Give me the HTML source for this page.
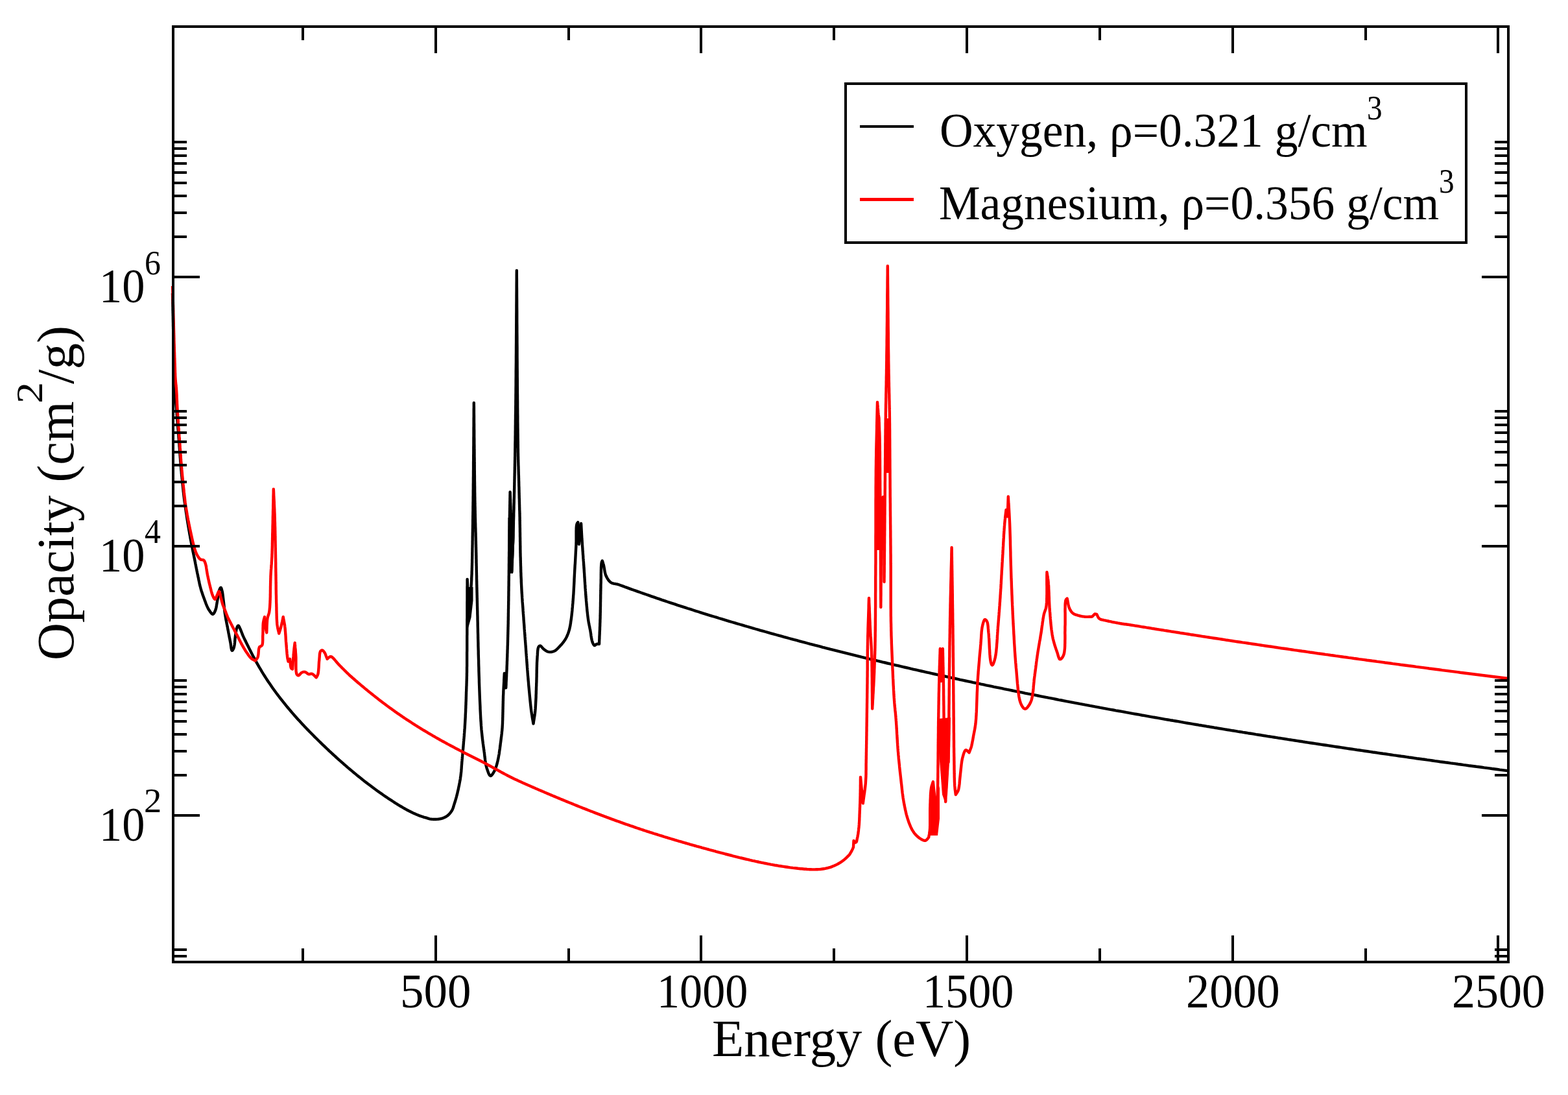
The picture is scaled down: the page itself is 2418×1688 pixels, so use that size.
<!DOCTYPE html>
<html><head><meta charset="utf-8"><title>Opacity</title><style>html,body{margin:0;padding:0;background:#fff;}svg{display:block;}text{font-family:"Liberation Serif","Times New Roman",serif;fill:#000;}</style></head><body><svg width="2418" height="1688" viewBox="0 0 2418 1688"><rect width="2418" height="1688" fill="#fff"/><polyline fill="none" stroke="#000" stroke-width="4.4" stroke-linejoin="round" points="266.0,452.0 266.0,454.0 266.1,456.0 266.1,458.0 266.2,460.0 266.2,462.0 266.3,464.0 266.3,466.0 266.3,468.0 266.4,470.0 266.4,472.0 266.5,473.9 266.5,475.9 266.5,477.9 266.6,479.9 266.6,481.9 266.7,483.9 266.7,485.9 266.8,487.9 266.8,489.9 266.8,491.9 266.9,494.0 266.9,496.0 267.0,498.0 267.0,500.0 267.0,502.1 267.1,504.1 267.1,506.2 267.2,508.3 267.2,510.4 267.2,512.6 267.3,514.7 267.3,516.8 267.4,518.9 267.4,521.0 267.5,523.2 267.5,525.3 267.5,527.4 267.6,529.5 267.6,531.6 267.7,533.7 267.7,535.8 267.7,537.9 267.8,539.9 267.8,542.0 267.9,544.0 267.9,546.0 268.0,548.0 268.0,550.0 268.0,551.9 268.1,553.9 268.1,555.8 268.2,557.7 268.2,559.7 268.2,561.6 268.3,563.5 268.3,565.5 268.4,567.4 268.4,569.3 268.4,571.1 268.5,573.0 268.5,574.8 268.6,576.7 268.6,578.4 268.7,580.2 268.7,581.9 268.8,583.6 268.8,585.3 268.9,586.9 268.9,588.5 269.0,590.0 269.1,591.9 269.2,593.7 269.3,595.5 269.4,597.2 269.5,598.8 269.6,600.4 269.7,602.0 269.8,603.6 269.9,605.2 270.1,606.7 270.2,608.4 270.3,610.0 270.4,611.7 270.6,613.3 270.7,614.9 270.8,616.6 271.0,618.2 271.1,619.9 271.3,621.5 271.4,623.2 271.6,624.8 271.7,626.5 271.9,628.3 272.0,630.0 272.1,631.7 272.3,633.4 272.4,635.2 272.6,636.9 272.7,638.7 272.8,640.5 273.0,642.3 273.1,644.1 273.3,646.0 273.4,647.8 273.6,649.6 273.7,651.4 273.9,653.2 274.0,655.0 274.1,656.8 274.3,658.5 274.4,660.3 274.6,662.0 274.7,663.7 274.8,665.4 275.0,667.1 275.1,668.9 275.3,670.6 275.4,672.4 275.5,674.3 275.7,676.1 275.8,678.0 276.0,680.0 276.1,681.6 276.2,683.3 276.4,685.0 276.5,686.7 276.6,688.5 276.8,690.2 276.9,692.0 277.0,693.9 277.1,695.7 277.3,697.6 277.4,699.4 277.5,701.3 277.7,703.2 277.8,705.1 278.0,707.0 278.1,708.8 278.2,710.7 278.4,712.6 278.5,714.5 278.7,716.3 278.8,718.2 279.0,720.0 279.2,721.8 279.3,723.7 279.5,725.6 279.7,727.5 279.8,729.4 280.0,731.3 280.2,733.2 280.4,735.1 280.6,737.0 280.8,738.9 281.0,740.8 281.2,742.7 281.3,744.6 281.5,746.4 281.7,748.3 281.9,750.1 282.1,751.8 282.3,753.5 282.5,755.2 282.6,756.9 282.8,758.5 283.0,760.0 283.2,761.9 283.4,763.7 283.6,765.5 283.8,767.1 284.0,768.7 284.2,770.3 284.4,771.9 284.6,773.4 284.9,775.1 285.1,776.8 285.3,778.5 285.6,780.4 285.8,782.0 286.1,783.6 286.3,785.3 286.6,787.0 286.8,788.7 287.1,790.5 287.4,792.3 287.7,794.2 287.9,796.0 288.2,797.9 288.5,799.8 288.8,801.6 289.1,803.5 289.4,805.4 289.7,807.2 290.0,809.0 290.3,810.8 290.6,812.6 290.9,814.3 291.2,816.0 291.5,817.9 291.9,819.9 292.2,821.8 292.5,823.7 292.9,825.6 293.2,827.5 293.5,829.3 293.9,831.2 294.2,833.0 294.6,834.8 294.9,836.6 295.2,838.3 295.6,840.0 295.9,841.7 296.2,843.4 296.6,845.3 296.9,847.0 297.3,848.8 297.6,850.5 298.0,852.2 298.3,853.9 298.7,855.5 299.0,857.2 299.4,858.9 299.7,860.6 300.1,862.4 300.4,864.1 300.8,865.8 301.1,867.5 301.4,869.2 301.8,870.9 302.1,872.7 302.5,874.4 302.8,876.2 303.2,877.9 303.5,879.7 303.9,881.4 304.2,883.2 304.6,884.9 305.0,886.6 305.3,888.4 305.7,890.1 306.1,891.9 306.4,893.7 306.8,895.4 307.2,897.2 307.5,898.9 307.9,900.7 308.3,902.4 308.7,904.0 309.2,905.7 309.6,907.3 310.1,909.1 310.6,910.9 311.2,912.6 311.8,914.3 312.3,916.0 312.9,917.7 313.5,919.3 314.1,921.0 314.7,922.6 315.3,924.2 315.9,925.9 316.6,927.6 317.2,929.4 317.8,931.1 318.5,932.7 319.2,934.4 319.9,935.9 320.6,937.4 321.4,938.8 322.3,940.3 323.3,941.8 324.3,943.3 325.4,944.7 326.4,945.8 327.3,946.6 328.2,946.8 329.1,946.4 329.9,945.4 330.7,944.1 331.4,942.5 332.1,941.0 332.6,939.6 333.0,938.1 333.4,936.5 333.7,934.8 334.0,933.0 334.3,931.2 334.6,929.3 334.9,927.5 335.2,925.9 335.5,924.2 335.8,922.4 336.1,920.6 336.4,918.8 336.6,917.0 336.9,915.2 337.3,913.6 337.6,912.1 337.9,910.7 338.3,909.6 338.8,908.2 339.4,907.0 340.0,906.1 340.5,905.8 341.0,906.2 341.5,907.3 341.9,908.7 342.3,910.3 342.7,911.8 343.0,913.1 343.2,914.5 343.4,915.9 343.6,917.5 343.8,919.1 344.0,920.7 344.2,922.4 344.4,924.2 344.6,925.8 344.8,927.4 345.0,929.1 345.2,930.9 345.4,932.7 345.6,934.6 345.8,936.5 346.0,938.4 346.2,940.3 346.4,942.2 346.7,944.1 346.9,945.9 347.2,947.7 347.5,949.5 347.8,951.3 348.1,953.1 348.4,954.9 348.8,956.7 349.1,958.5 349.5,960.3 349.8,962.1 350.2,963.8 350.5,965.6 350.9,967.3 351.2,969.1 351.5,970.8 351.9,972.5 352.2,974.3 352.5,976.0 352.9,977.8 353.2,979.5 353.5,981.2 353.8,982.9 354.2,984.5 354.5,986.2 354.8,987.8 355.1,989.3 355.5,991.3 355.8,993.5 356.1,995.7 356.4,997.9 356.7,999.8 357.1,1001.4 357.5,1002.5 357.9,1002.9 358.6,1002.5 359.3,1001.4 360.1,999.9 360.7,998.2 361.0,997.0 361.3,995.6 361.6,994.1 361.8,992.4 362.0,990.7 362.1,988.9 362.3,987.1 362.4,985.3 362.6,983.5 362.8,981.8 363.0,980.3 363.2,978.6 363.5,976.9 363.7,975.2 364.0,973.5 364.2,971.9 364.5,970.5 364.8,969.2 365.2,968.0 365.7,966.7 366.2,965.6 366.8,964.7 367.4,964.4 368.1,964.9 368.8,966.0 369.5,967.5 370.2,969.1 370.8,970.3 371.4,971.7 372.0,973.3 372.6,974.8 373.3,976.5 373.9,978.2 374.6,979.8 375.3,981.4 376.0,982.9 376.7,984.4 377.4,985.9 378.2,987.4 379.0,988.9 379.7,990.5 380.5,992.0 381.2,993.5 382.0,995.0 384.0,999.1 386.0,1003.1 388.0,1007.0 390.0,1010.9 392.0,1014.6 394.0,1018.3 396.0,1021.9 398.0,1025.4 400.0,1028.9 402.0,1032.2 404.0,1035.6 406.0,1038.8 408.0,1042.0 410.0,1045.1 412.0,1048.2 414.0,1051.2 416.0,1054.1 418.0,1057.0 420.0,1059.9 422.0,1062.7 424.0,1065.5 426.0,1068.2 428.0,1070.8 430.0,1073.5 432.0,1076.1 434.0,1078.6 436.0,1081.1 438.0,1083.6 440.0,1086.1 442.0,1088.6 444.0,1091.0 446.0,1093.4 448.0,1095.7 450.0,1098.1 452.0,1100.4 454.0,1102.7 456.0,1104.9 458.0,1107.2 460.0,1109.4 462.0,1111.6 464.0,1113.8 466.0,1115.9 468.0,1118.1 470.0,1120.2 472.0,1122.3 474.0,1124.4 476.0,1126.4 478.0,1128.5 480.0,1130.5 482.0,1132.5 484.0,1134.6 486.0,1136.6 488.0,1138.5 490.0,1140.5 492.0,1142.5 494.0,1144.4 496.0,1146.4 498.0,1148.3 500.0,1150.2 502.0,1152.1 504.0,1154.0 506.0,1155.9 508.0,1157.8 510.0,1159.6 512.0,1161.5 514.0,1163.3 516.0,1165.2 518.0,1167.0 520.0,1168.8 522.0,1170.6 524.0,1172.4 526.0,1174.1 528.0,1175.9 530.0,1177.7 532.0,1179.4 534.0,1181.1 536.0,1182.9 538.0,1184.6 540.0,1186.3 542.0,1187.9 544.0,1189.6 546.0,1191.3 548.0,1192.9 550.0,1194.6 552.0,1196.2 554.0,1197.8 556.0,1199.4 558.0,1201.0 560.0,1202.6 562.0,1204.2 564.0,1205.7 566.0,1207.3 568.0,1208.8 570.0,1210.3 572.0,1211.8 574.0,1213.3 576.0,1214.8 578.0,1216.3 580.0,1217.7 582.0,1219.2 584.0,1220.6 586.0,1222.0 588.0,1223.4 590.0,1224.8 592.0,1226.2 594.0,1227.6 596.0,1228.9 598.0,1230.3 600.0,1231.6 602.0,1232.9 604.0,1234.2 606.0,1235.5 608.0,1236.8 610.0,1238.1 612.0,1239.3 614.0,1240.6 616.0,1241.8 618.0,1243.0 620.0,1244.2 622.0,1245.4 624.0,1246.5 626.0,1247.6 628.0,1248.7 630.0,1249.8 632.0,1250.8 634.0,1251.8 636.0,1252.8 638.0,1253.7 640.0,1254.6 642.0,1255.5 644.0,1256.3 646.0,1257.1 648.0,1257.8 650.0,1258.5 652.0,1259.2 654.0,1259.8 656.0,1260.3 656.4,1260.4 657.9,1260.9 659.4,1261.4 661.0,1261.9 662.5,1262.3 664.0,1262.6 665.4,1262.8 666.8,1262.9 668.1,1263.0 669.5,1263.0 671.0,1263.0 672.4,1263.0 673.9,1262.9 675.4,1262.8 676.9,1262.6 678.4,1262.3 679.9,1262.0 681.5,1261.6 683.1,1261.1 684.6,1260.5 686.2,1259.8 687.7,1259.0 689.1,1258.1 690.3,1257.2 691.5,1256.2 692.6,1255.1 693.7,1253.9 694.8,1252.6 695.7,1251.3 696.6,1250.0 697.3,1248.7 698.0,1247.3 698.6,1245.8 699.1,1244.3 699.6,1242.7 700.0,1241.2 700.5,1239.6 701.0,1238.0 701.5,1236.5 702.0,1235.0 702.4,1233.5 702.9,1231.9 703.3,1230.4 703.8,1228.8 704.2,1227.1 704.7,1225.4 705.1,1223.6 705.5,1222.1 705.8,1220.5 706.2,1218.9 706.6,1217.2 707.0,1215.5 707.3,1213.7 707.7,1211.9 708.1,1210.1 708.4,1208.3 708.8,1206.4 709.1,1204.6 709.5,1202.8 709.8,1201.0 710.0,1199.2 710.3,1197.4 710.5,1195.7 710.7,1193.9 710.9,1192.2 711.1,1190.4 711.3,1188.7 711.4,1186.9 711.6,1185.1 711.7,1183.4 711.8,1181.6 711.9,1179.9 712.1,1178.1 712.2,1176.4 712.3,1174.6 712.5,1172.9 712.6,1171.1 712.8,1169.4 712.9,1167.6 713.1,1165.9 713.2,1164.1 713.4,1162.4 713.5,1160.6 713.7,1158.9 713.8,1157.1 714.0,1155.4 714.2,1153.6 714.3,1151.9 714.5,1150.1 714.6,1148.4 714.8,1146.6 714.9,1144.9 715.0,1143.2 715.2,1141.4 715.3,1139.7 715.5,1137.9 715.6,1136.2 715.8,1134.4 715.9,1132.7 716.0,1130.9 716.2,1129.2 716.3,1127.4 716.4,1125.7 716.5,1123.9 716.7,1122.2 716.8,1120.4 716.9,1118.7 717.0,1117.0 717.1,1115.2 717.2,1113.5 717.3,1111.7 717.4,1110.0 717.5,1108.2 717.6,1106.5 717.7,1104.7 717.7,1103.0 717.8,1101.2 717.9,1099.5 718.0,1097.7 718.1,1096.0 718.1,1094.2 718.2,1092.5 718.3,1090.7 718.3,1089.0 718.4,1087.2 718.5,1085.5 718.5,1083.7 718.6,1082.0 718.7,1080.2 718.7,1078.5 718.8,1076.7 718.8,1075.0 718.9,1073.2 718.9,1071.5 719.0,1069.7 719.0,1068.0 719.1,1066.2 719.2,1064.5 719.2,1062.8 719.3,1061.1 719.3,1059.4 719.4,1057.8 719.5,1056.1 719.5,1054.4 719.6,1052.8 719.6,1051.1 719.7,1049.3 719.7,1047.6 719.8,1045.8 719.8,1043.9 719.9,1042.0 719.9,1040.0 719.9,1038.3 720.0,1036.5 720.0,1034.6 720.0,1032.7 720.0,1030.8 720.0,1028.8 720.1,1026.9 720.1,1024.8 720.1,1022.8 720.1,1020.7 720.1,1018.6 720.1,1016.5 720.1,1014.4 720.1,1012.3 720.1,1010.1 720.1,1008.0 720.1,1005.8 720.2,1003.7 720.2,1001.5 720.2,999.4 720.2,997.3 720.2,995.2 720.2,993.1 720.2,991.0 720.2,988.9 720.2,986.8 720.2,984.7 720.2,982.5 720.2,980.4 720.3,978.3 720.3,976.1 720.3,974.0 720.3,971.9 720.3,969.7 720.3,967.6 720.3,965.4 720.3,963.3 720.3,961.2 720.3,959.0 720.3,956.9 720.3,954.8 720.4,952.6 720.4,950.5 720.4,948.4 720.4,946.3 720.4,944.2 720.4,942.1 720.4,940.0 720.4,938.0 720.4,936.0 720.4,934.0 720.4,932.1 720.4,930.1 720.4,928.1 720.5,926.2 720.5,924.2 720.5,922.2 720.5,920.3 720.5,918.3 720.5,916.4 720.5,914.4 720.5,912.5 720.5,910.5 720.5,908.6 720.5,906.7 720.5,904.7 720.6,902.8 720.6,900.8 720.6,898.9 720.6,896.9 720.6,895.0 720.6,893.0 722.0,925.0 722.8,924.3 723.6,923.7 724.4,923.0 725.0,922.0 725.4,920.9 725.7,919.6 725.9,918.1 726.1,916.4 726.2,914.6 726.2,912.7 726.3,910.8 726.3,908.8 726.4,906.9 726.5,905.0 726.6,903.4 726.7,901.8 726.8,900.1 726.9,898.5 727.0,896.8 727.1,895.1 727.2,893.3 727.2,891.6 727.3,889.8 727.4,887.9 727.5,886.0 727.6,884.1 727.6,882.1 727.7,880.0 727.8,878.3 727.8,876.5 727.9,874.6 727.9,872.8 728.0,870.8 728.0,868.9 728.1,866.9 728.1,864.9 728.1,862.9 728.2,860.8 728.2,858.7 728.3,856.6 728.3,854.5 728.3,852.3 728.4,850.1 728.4,847.9 728.4,845.7 728.5,843.5 728.5,841.3 728.6,839.0 728.6,836.8 728.6,834.5 728.7,832.3 728.7,830.0 728.7,827.3 728.8,824.6 728.8,821.8 728.9,819.1 728.9,816.3 729.0,813.4 729.0,810.6 729.1,807.7 729.1,804.8 729.1,801.9 729.2,799.0 729.2,796.0 729.3,793.1 729.3,790.1 729.4,787.1 729.4,784.1 729.4,781.1 729.5,778.1 729.5,775.1 729.6,772.1 729.6,769.1 729.6,766.0 729.7,763.0 729.7,760.0 729.7,756.8 729.8,753.5 729.8,750.2 729.8,746.8 729.9,743.5 729.9,740.1 729.9,736.7 730.0,733.3 730.0,729.9 730.0,726.4 730.1,723.0 730.1,719.6 730.1,716.2 730.1,712.7 730.2,709.3 730.2,706.0 730.2,702.6 730.3,699.3 730.3,696.0 730.3,692.7 730.3,689.5 730.4,686.3 730.4,683.1 730.4,680.0 730.4,677.4 730.4,674.8 730.5,672.2 730.5,669.6 730.5,667.1 730.5,664.6 730.5,662.1 730.5,659.7 730.6,657.2 730.6,654.8 730.6,652.4 730.6,649.9 730.6,647.5 730.6,645.1 730.7,642.7 730.7,640.3 730.7,637.9 730.7,635.5 730.7,633.1 730.7,630.7 730.8,628.3 730.8,625.9 730.8,623.5 730.8,621.0 730.8,624.3 730.9,627.6 730.9,630.9 730.9,634.2 730.9,637.4 731.0,640.7 731.0,644.0 731.0,647.3 731.0,650.6 731.1,653.9 731.1,657.2 731.1,660.5 731.2,663.8 731.2,667.0 731.2,670.3 731.2,673.6 731.3,676.9 731.3,680.2 731.3,683.5 731.4,686.8 731.4,690.1 731.4,693.4 731.5,696.7 731.5,700.0 731.5,703.3 731.6,706.7 731.6,710.1 731.6,713.4 731.7,716.8 731.7,720.2 731.7,723.6 731.8,727.1 731.8,730.5 731.9,733.9 731.9,737.3 731.9,740.7 732.0,744.1 732.0,747.5 732.1,750.8 732.1,754.2 732.1,757.5 732.2,760.8 732.2,764.1 732.3,767.3 732.3,770.5 732.4,773.7 732.4,776.9 732.5,780.0 732.6,782.7 732.6,785.3 732.7,788.0 732.7,790.6 732.8,793.2 732.8,795.7 732.9,798.3 733.0,800.8 733.0,803.4 733.1,805.9 733.2,808.4 733.2,810.9 733.3,813.4 733.4,815.8 733.4,818.3 733.5,820.7 733.6,823.2 733.6,825.6 733.7,828.0 733.8,830.4 733.8,832.8 733.9,835.2 733.9,837.6 734.0,840.0 734.0,842.2 734.1,844.3 734.1,846.5 734.2,848.6 734.2,850.7 734.3,852.8 734.3,854.9 734.4,857.0 734.4,859.1 734.4,861.2 734.5,863.2 734.5,865.3 734.5,867.3 734.6,869.4 734.6,871.5 734.7,873.5 734.7,875.6 734.7,877.6 734.8,879.7 734.8,881.7 734.9,883.8 734.9,885.8 735.0,887.9 735.0,890.0 735.0,892.1 735.1,894.1 735.1,896.2 735.2,898.2 735.2,900.3 735.3,902.3 735.3,904.3 735.4,906.3 735.4,908.3 735.5,910.3 735.5,912.4 735.6,914.4 735.6,916.4 735.7,918.5 735.7,920.5 735.8,922.6 735.8,924.7 735.9,926.8 735.9,929.0 736.0,931.1 736.0,933.3 736.1,935.5 736.1,937.7 736.2,940.0 736.3,942.8 736.3,945.6 736.4,948.5 736.5,951.5 736.5,954.5 736.6,957.5 736.7,960.5 736.7,963.6 736.8,966.7 736.9,969.8 736.9,972.9 737.0,976.1 737.1,979.3 737.1,982.4 737.2,985.6 737.3,988.8 737.4,991.9 737.4,995.1 737.5,998.2 737.6,1001.3 737.7,1004.4 737.7,1007.5 737.8,1010.5 737.9,1013.5 738.0,1016.3 738.1,1019.2 738.1,1022.1 738.2,1024.9 738.3,1027.8 738.4,1030.6 738.4,1033.5 738.5,1036.4 738.6,1039.2 738.7,1042.1 738.8,1044.9 738.9,1047.7 738.9,1050.5 739.0,1053.3 739.1,1056.1 739.2,1058.9 739.3,1061.6 739.4,1064.3 739.5,1067.0 739.6,1069.7 739.7,1072.3 739.8,1074.9 739.9,1077.5 740.0,1080.0 740.1,1082.1 740.2,1084.2 740.3,1086.2 740.4,1088.2 740.5,1090.3 740.5,1092.3 740.6,1094.3 740.7,1096.3 740.8,1098.2 740.9,1100.2 741.0,1102.1 741.1,1104.0 741.2,1105.9 741.3,1107.8 741.4,1109.7 741.5,1111.6 741.7,1113.4 741.8,1115.3 741.9,1117.1 742.0,1118.9 742.2,1120.7 742.3,1122.5 742.4,1124.2 742.6,1126.0 742.8,1128.0 743.0,1129.9 743.2,1131.8 743.4,1133.8 743.6,1135.6 743.8,1137.5 744.0,1139.4 744.2,1141.2 744.5,1143.0 744.7,1144.9 744.9,1146.6 745.2,1148.4 745.4,1150.2 745.6,1151.9 745.9,1153.7 746.1,1155.4 746.4,1157.1 746.6,1158.8 746.9,1160.7 747.1,1162.6 747.3,1164.5 747.5,1166.4 747.8,1168.3 748.0,1170.2 748.2,1172.0 748.5,1173.8 748.7,1175.6 749.0,1177.3 749.3,1179.0 749.7,1180.6 750.1,1182.1 750.5,1183.6 751.1,1185.6 751.8,1187.6 752.5,1189.6 753.2,1191.6 754.0,1193.3 754.8,1194.7 755.6,1195.6 756.4,1196.0 757.3,1195.8 758.3,1194.9 759.3,1193.7 760.4,1192.1 761.3,1190.5 762.2,1188.9 762.9,1187.6 763.5,1186.3 764.0,1184.9 764.6,1183.4 765.1,1181.9 765.6,1180.3 766.1,1178.6 766.6,1176.9 767.0,1175.1 767.5,1173.2 767.8,1171.7 768.2,1170.1 768.5,1168.5 768.8,1166.8 769.1,1165.0 769.5,1163.1 769.8,1161.3 770.0,1159.4 770.3,1157.4 770.6,1155.5 770.9,1153.5 771.1,1151.6 771.4,1149.7 771.6,1147.8 771.8,1146.0 772.1,1144.2 772.3,1142.5 772.5,1140.8 772.7,1139.2 772.9,1137.3 773.2,1135.4 773.4,1133.7 773.6,1132.1 773.8,1130.5 773.9,1128.8 774.1,1127.2 774.3,1125.5 774.4,1123.7 774.6,1121.8 774.7,1119.7 774.8,1118.1 774.9,1116.4 775.0,1114.7 775.0,1112.9 775.1,1111.0 775.2,1109.1 775.2,1107.1 775.3,1105.1 775.3,1103.1 775.4,1101.0 775.4,1098.9 775.5,1096.8 775.5,1094.6 775.6,1092.5 775.6,1090.4 775.7,1088.2 775.7,1086.1 775.8,1084.0 775.8,1081.9 775.9,1079.9 775.9,1077.9 776.0,1076.0 776.0,1074.0 776.1,1072.2 776.2,1070.3 776.3,1068.4 776.3,1066.5 776.4,1064.6 776.5,1062.8 776.6,1061.0 776.7,1059.2 776.8,1057.4 776.9,1055.6 777.0,1053.9 777.1,1052.1 777.2,1050.4 777.2,1048.6 777.3,1046.9 777.4,1045.1 777.5,1043.3 777.6,1041.6 777.7,1039.8 777.8,1038.0 780.2,1060.4 780.3,1058.5 780.4,1056.7 780.5,1054.8 780.5,1053.0 780.6,1051.2 780.7,1049.3 780.8,1047.5 780.9,1045.7 781.0,1043.8 781.1,1042.0 781.1,1040.2 781.2,1038.3 781.3,1036.4 781.4,1034.5 781.5,1032.6 781.6,1030.7 781.6,1028.8 781.7,1026.8 781.8,1024.8 781.9,1023.0 781.9,1021.1 782.0,1019.2 782.1,1017.3 782.1,1015.4 782.2,1013.4 782.3,1011.4 782.3,1009.5 782.4,1007.5 782.5,1005.5 782.5,1003.5 782.6,1001.5 782.7,999.5 782.7,997.4 782.8,995.4 782.9,993.4 782.9,991.4 783.0,989.3 783.0,987.3 783.1,985.3 783.1,983.3 783.2,981.3 783.2,979.3 783.3,977.3 783.3,975.3 783.4,973.3 783.4,971.4 783.5,969.4 783.5,967.4 783.6,965.4 783.6,963.4 783.7,961.5 783.7,959.5 783.7,957.5 783.8,955.5 783.8,953.5 783.8,951.6 783.9,949.6 783.9,947.6 783.9,945.6 784.0,943.7 784.0,941.7 784.0,939.7 784.1,937.7 784.1,935.7 784.1,933.8 784.2,931.8 784.2,929.8 784.2,927.8 784.3,925.9 784.3,923.9 784.3,922.0 784.3,920.0 784.4,918.1 784.4,916.2 784.4,914.2 784.4,912.3 784.5,910.4 784.5,908.4 784.5,906.5 784.5,904.6 784.6,902.6 784.6,900.6 784.6,898.7 784.6,896.7 784.7,894.7 784.7,892.7 784.7,890.7 784.7,888.6 784.8,886.6 784.8,884.5 784.8,882.4 784.8,880.0 784.9,877.5 784.9,875.0 784.9,872.5 784.9,870.0 785.0,867.4 785.0,864.8 785.0,862.2 785.0,859.6 785.1,857.0 785.1,854.3 785.1,851.7 785.2,849.1 785.2,846.4 785.2,843.7 785.2,841.1 785.3,838.4 785.3,835.8 785.3,833.1 785.4,830.5 785.4,827.8 785.4,825.2 785.5,822.6 785.5,820.0 785.5,817.4 785.6,814.9 785.6,812.3 785.7,809.7 785.7,807.2 785.7,804.6 785.8,802.0 785.8,799.5 785.9,796.9 785.9,794.3 786.0,791.8 786.0,789.2 786.1,786.7 786.1,784.1 786.2,781.5 786.2,779.0 786.3,776.4 786.3,773.9 786.4,771.3 786.4,768.7 786.5,766.2 786.5,763.6 786.6,761.1 786.6,758.5 786.7,760.4 786.7,762.2 786.8,764.0 786.9,765.9 786.9,767.7 787.0,769.4 787.1,771.2 787.1,773.0 787.2,774.8 787.3,776.6 787.3,778.4 787.4,780.2 787.5,782.0 787.5,783.9 787.6,785.8 787.6,787.7 787.7,789.6 787.8,791.6 787.8,793.6 787.9,795.7 787.9,797.8 788.0,800.0 788.1,802.9 788.1,805.9 788.2,808.9 788.3,812.1 788.3,815.3 788.4,818.6 788.4,821.9 788.5,825.3 788.5,828.7 788.6,832.2 788.6,835.7 788.7,839.3 788.7,842.8 788.8,846.4 788.8,850.0 788.9,853.6 788.9,857.2 789.0,860.9 789.0,864.4 789.1,868.0 789.1,871.6 789.2,875.1 789.2,878.6 789.3,882.0 789.4,879.8 789.5,877.7 789.5,875.6 789.6,873.4 789.7,871.3 789.8,869.2 789.9,867.1 789.9,865.0 790.0,862.8 790.1,860.7 790.2,858.6 790.3,856.5 790.4,854.4 790.4,852.2 790.5,850.1 790.6,847.9 790.7,845.7 790.7,843.5 790.8,841.3 790.9,839.1 791.0,836.9 791.1,834.6 791.1,832.3 791.2,830.0 791.3,827.3 791.4,824.5 791.4,821.7 791.5,818.9 791.6,816.0 791.7,813.1 791.8,810.2 791.9,807.2 791.9,804.3 792.0,801.3 792.1,798.3 792.2,795.3 792.2,792.3 792.3,789.3 792.4,786.3 792.5,783.3 792.5,780.3 792.6,777.4 792.7,774.4 792.7,771.5 792.8,768.6 792.9,765.7 792.9,762.8 793.0,760.0 793.1,757.4 793.1,754.9 793.2,752.4 793.2,749.9 793.3,747.5 793.3,745.0 793.4,742.6 793.4,740.2 793.5,737.8 793.5,735.4 793.6,733.1 793.6,730.7 793.7,728.3 793.7,725.8 793.8,723.4 793.8,721.0 793.9,718.5 793.9,716.0 794.0,713.4 794.0,710.8 794.1,708.2 794.1,705.5 794.2,702.8 794.2,700.0 794.3,696.3 794.3,692.7 794.4,688.9 794.4,685.2 794.5,681.3 794.6,677.5 794.6,673.6 794.7,669.7 794.7,665.7 794.8,661.7 794.8,657.6 794.9,653.5 794.9,649.3 795.0,645.1 795.0,640.8 795.1,636.5 795.2,632.1 795.2,627.7 795.3,623.2 795.3,618.7 795.4,614.1 795.4,609.5 795.5,604.8 795.5,600.0 795.6,593.4 795.6,586.7 795.7,579.8 795.7,572.7 795.8,565.5 795.9,558.1 795.9,550.6 796.0,543.1 796.0,535.4 796.1,527.6 796.1,519.8 796.2,511.9 796.2,504.0 796.3,496.0 796.3,488.0 796.4,480.0 796.4,472.0 796.5,464.0 796.5,456.1 796.6,448.1 796.6,440.3 796.7,432.4 796.7,424.7 796.8,417.0 796.8,424.7 796.9,432.4 796.9,440.3 797.0,448.1 797.0,456.1 797.1,464.0 797.1,472.0 797.2,480.0 797.2,488.0 797.2,496.0 797.3,504.0 797.3,511.9 797.4,519.8 797.4,527.6 797.5,535.4 797.5,543.1 797.5,550.6 797.6,558.1 797.6,565.5 797.7,572.7 797.7,579.8 797.8,586.7 797.8,593.4 797.9,600.0 797.9,604.8 798.0,609.5 798.0,614.2 798.1,618.8 798.1,623.4 798.1,627.9 798.2,632.4 798.2,636.8 798.3,641.2 798.3,645.5 798.3,649.8 798.4,654.0 798.4,658.2 798.5,662.3 798.5,666.3 798.6,670.3 798.6,674.2 798.7,678.1 798.7,681.9 798.8,685.7 798.8,689.3 798.9,693.0 798.9,696.5 799.0,700.0 799.0,702.4 799.1,704.8 799.1,707.1 799.2,709.3 799.2,711.5 799.3,713.7 799.3,715.8 799.4,717.9 799.5,720.0 799.5,722.1 799.6,724.1 799.6,726.1 799.7,728.1 799.7,730.0 799.8,732.0 799.9,734.0 799.9,735.9 800.0,737.9 800.0,739.9 800.1,741.9 800.1,743.9 800.2,745.9 800.2,747.9 800.3,750.0 800.4,752.1 800.4,754.2 800.5,756.2 800.5,758.3 800.6,760.3 800.6,762.4 800.7,764.5 800.7,766.5 800.8,768.6 800.9,770.6 800.9,772.7 801.0,774.7 801.0,776.8 801.1,778.9 801.1,781.0 801.2,783.0 801.2,785.1 801.3,787.2 801.4,789.3 801.4,791.4 801.5,793.6 801.5,795.7 801.6,797.8 801.6,800.0 801.6,802.4 801.7,804.7 801.7,807.2 801.8,809.6 801.8,812.0 801.9,814.5 801.9,817.0 801.9,819.5 802.0,821.9 802.0,824.4 802.0,826.9 802.1,829.4 802.1,832.0 802.1,834.4 802.2,836.9 802.2,839.4 802.3,841.9 802.3,844.4 802.3,846.8 802.4,849.2 802.4,851.6 802.5,854.0 802.5,856.4 802.6,858.7 802.7,860.8 802.7,862.8 802.8,864.9 802.8,866.9 802.9,868.9 802.9,870.9 803.0,872.9 803.1,874.9 803.1,876.8 803.2,878.8 803.2,880.8 803.3,882.7 803.4,884.7 803.4,886.6 803.5,888.5 803.6,890.5 803.7,892.4 803.8,894.4 803.8,896.3 803.9,898.3 804.0,900.2 804.1,902.2 804.2,904.1 804.3,906.1 804.4,908.1 804.5,910.1 804.6,912.0 804.7,914.0 804.9,916.0 805.0,918.0 805.1,920.0 805.2,921.9 805.4,923.9 805.5,925.9 805.6,927.9 805.8,929.9 805.9,931.8 806.1,933.8 806.2,935.8 806.4,937.8 806.5,939.7 806.6,941.7 806.8,943.7 806.9,945.7 807.1,947.7 807.2,949.6 807.4,951.6 807.5,953.6 807.6,955.6 807.8,957.6 807.9,959.5 808.1,961.5 808.2,963.5 808.4,965.5 808.5,967.4 808.6,969.4 808.8,971.4 808.9,973.4 809.1,975.3 809.2,977.3 809.4,979.3 809.5,981.2 809.7,983.2 809.8,985.2 810.0,987.2 810.1,989.1 810.3,991.1 810.4,993.1 810.6,995.1 810.7,997.0 810.9,999.0 811.0,1001.0 811.1,1003.0 811.3,1005.0 811.4,1006.9 811.6,1008.9 811.7,1010.9 811.9,1012.9 812.0,1014.9 812.2,1016.8 812.3,1018.8 812.4,1020.8 812.6,1022.8 812.7,1024.8 812.9,1026.7 813.0,1028.7 813.2,1030.7 813.3,1032.7 813.5,1034.6 813.6,1036.6 813.8,1038.6 813.9,1040.6 814.1,1042.6 814.3,1044.5 814.4,1046.5 814.6,1048.5 814.8,1050.5 815.0,1052.5 815.1,1054.6 815.3,1056.7 815.5,1058.8 815.7,1060.9 815.9,1063.0 816.1,1065.1 816.3,1067.2 816.5,1069.4 816.7,1071.5 816.9,1073.6 817.1,1075.6 817.3,1077.7 817.5,1079.7 817.7,1081.7 817.9,1083.7 818.1,1085.6 818.3,1087.5 818.5,1089.3 818.7,1091.1 818.9,1092.8 819.1,1094.4 819.3,1096.0 819.6,1098.1 819.9,1100.1 820.2,1101.9 820.5,1103.7 820.7,1105.4 821.0,1107.1 821.3,1108.8 821.6,1110.4 821.9,1112.1 822.2,1113.8 822.5,1115.5 822.8,1113.8 823.0,1112.1 823.3,1110.4 823.6,1108.7 823.8,1107.1 824.1,1105.4 824.4,1103.7 824.6,1101.9 824.9,1100.0 825.1,1098.1 825.3,1096.0 825.4,1094.5 825.6,1092.9 825.7,1091.2 825.8,1089.5 825.9,1087.7 826.0,1085.9 826.1,1084.0 826.2,1082.1 826.3,1080.2 826.4,1078.3 826.5,1076.3 826.6,1074.3 826.6,1072.3 826.7,1070.3 826.8,1068.3 826.8,1066.3 826.9,1064.3 827.0,1062.4 827.0,1060.4 827.1,1058.5 827.2,1056.6 827.2,1054.7 827.3,1052.9 827.4,1051.0 827.4,1049.0 827.5,1047.1 827.5,1045.1 827.6,1043.1 827.6,1041.2 827.6,1039.2 827.7,1037.2 827.7,1035.3 827.7,1033.4 827.8,1031.5 827.8,1029.6 827.9,1027.7 827.9,1025.9 828.0,1024.1 828.0,1022.4 828.1,1020.6 828.2,1019.0 828.3,1017.4 828.4,1015.8 828.5,1013.8 828.6,1011.7 828.8,1009.7 828.9,1007.7 829.0,1005.8 829.1,1003.9 829.3,1002.2 829.5,1000.6 829.8,999.2 830.2,998.1 830.6,997.2 831.4,996.2 832.3,995.6 833.2,995.5 834.1,995.9 835.0,996.9 836.0,998.1 837.1,999.4 838.2,1000.5 839.3,1001.4 840.6,1002.3 841.8,1003.1 843.2,1003.9 844.5,1004.5 845.9,1004.9 847.3,1005.1 848.8,1005.1 850.3,1005.0 851.7,1004.7 853.2,1004.3 854.6,1003.8 855.9,1003.1 857.2,1002.2 858.5,1001.1 859.7,1000.0 860.9,998.7 862.1,997.5 863.3,996.2 864.3,995.1 865.4,994.0 866.4,992.8 867.4,991.6 868.4,990.4 869.4,989.1 870.3,987.8 871.2,986.5 872.0,985.2 872.8,983.8 873.5,982.5 874.2,981.1 874.8,979.6 875.4,978.2 876.0,976.7 876.5,975.2 877.0,973.7 877.5,972.1 878.0,970.5 878.4,968.9 878.7,967.3 879.1,965.6 879.4,964.0 879.7,962.2 880.0,960.5 880.2,958.6 880.5,956.7 880.8,954.7 881.0,953.2 881.2,951.5 881.4,949.9 881.6,948.2 881.8,946.4 882.0,944.6 882.2,942.8 882.4,940.9 882.5,939.0 882.7,937.1 882.9,935.2 883.0,933.3 883.2,931.3 883.4,929.4 883.5,927.4 883.7,925.5 883.8,923.5 884.0,921.6 884.1,919.7 884.2,917.9 884.4,916.0 884.5,914.2 884.6,912.4 884.7,910.5 884.8,908.6 884.9,906.8 885.0,904.9 885.1,903.0 885.2,901.1 885.3,899.3 885.4,897.4 885.5,895.5 885.5,893.6 885.6,891.7 885.7,889.8 885.8,887.9 885.9,886.0 886.0,884.2 886.1,882.3 886.2,880.4 886.3,878.5 886.4,876.6 886.5,874.8 886.6,872.9 886.7,871.0 886.9,869.1 887.0,867.2 887.1,865.3 887.2,863.4 887.3,861.5 887.4,859.6 887.5,857.7 887.6,855.8 887.7,854.0 887.8,852.1 887.9,850.2 888.0,848.4 888.1,846.5 888.2,844.7 888.3,842.9 888.4,841.1 888.5,839.1 888.5,837.1 888.6,835.0 888.6,832.9 888.6,830.7 888.6,828.5 888.6,826.4 888.6,824.2 888.6,822.1 888.6,820.1 888.6,818.1 888.7,816.3 888.7,814.5 888.8,812.9 888.9,811.4 889.1,810.1 889.3,808.9 889.5,808.0 890.0,806.7 890.7,805.9 891.3,805.0 892.8,839.0 893.0,837.3 893.1,835.6 893.3,833.9 893.5,832.2 893.6,830.5 893.8,828.8 894.0,827.1 894.1,825.4 894.3,823.7 894.5,822.1 894.6,820.4 894.8,818.7 895.0,817.1 895.2,815.4 895.4,813.7 895.6,812.0 895.7,810.4 895.9,808.7 896.1,807.0 896.2,808.9 896.3,810.7 896.4,812.5 896.5,814.4 896.6,816.2 896.7,818.0 896.8,819.9 896.9,821.7 897.0,823.5 897.1,825.4 897.2,827.2 897.3,829.1 897.4,831.0 897.6,832.9 897.7,834.8 897.8,836.8 897.9,838.6 898.0,840.3 898.1,842.1 898.3,843.9 898.4,845.7 898.5,847.5 898.6,849.3 898.8,851.1 898.9,853.0 899.0,854.8 899.2,856.7 899.3,858.5 899.4,860.4 899.6,862.3 899.7,864.2 899.9,866.1 900.0,868.0 900.1,870.0 900.3,871.9 900.4,873.9 900.5,875.8 900.7,877.7 900.8,879.7 900.9,881.6 901.1,883.7 901.2,885.7 901.3,887.7 901.4,889.8 901.6,891.9 901.7,893.9 901.8,896.0 902.0,898.1 902.1,900.2 902.3,902.2 902.4,904.3 902.5,906.4 902.7,908.4 902.8,910.4 903.0,912.4 903.1,914.4 903.2,916.3 903.4,918.2 903.5,920.1 903.7,921.9 903.9,923.9 904.0,925.9 904.2,927.9 904.4,929.8 904.5,931.8 904.7,933.7 904.9,935.6 905.1,937.5 905.2,939.3 905.4,941.2 905.6,943.0 905.8,944.8 906.0,946.5 906.2,948.2 906.4,949.9 906.6,951.5 906.8,953.1 907.0,954.7 907.3,956.7 907.6,958.5 907.9,960.3 908.3,962.1 908.6,963.7 909.0,965.4 909.3,967.1 909.6,968.7 910.0,970.4 910.3,972.1 910.6,973.9 910.9,975.8 911.2,977.7 911.4,979.6 911.7,981.5 912.0,983.4 912.3,985.1 912.7,986.8 913.1,988.3 913.5,989.6 914.1,991.1 914.7,992.5 915.4,993.7 916.1,994.6 916.8,995.0 917.8,994.6 918.9,993.7 920.1,992.9 921.4,992.7 922.7,992.8 924.0,992.9 924.1,991.1 924.1,989.3 924.2,987.5 924.3,985.7 924.4,984.0 924.4,982.2 924.5,980.4 924.6,978.7 924.7,976.9 924.7,975.1 924.8,973.3 924.9,971.6 925.0,969.8 925.0,967.9 925.1,966.1 925.2,964.3 925.2,962.4 925.3,960.5 925.4,958.6 925.4,956.7 925.5,954.7 925.6,952.6 925.6,950.4 925.7,948.2 925.7,946.0 925.8,943.7 925.8,941.4 925.9,939.0 925.9,936.7 926.0,934.3 926.0,931.9 926.0,929.5 926.1,927.1 926.1,924.7 926.2,922.3 926.2,919.9 926.2,917.6 926.3,915.2 926.3,912.9 926.4,910.7 926.4,908.4 926.5,906.2 926.5,904.1 926.5,902.0 926.6,900.0 926.7,897.9 926.7,895.8 926.7,893.6 926.8,891.5 926.8,889.3 926.8,887.1 926.8,885.0 926.9,882.9 926.9,880.9 926.9,878.9 927.0,877.0 927.0,875.2 927.1,873.5 927.2,872.0 927.3,870.6 927.4,869.3 927.5,868.2 927.7,867.3 928.0,866.1 928.4,865.3 928.8,864.5 929.2,865.9 929.7,867.2 930.1,868.6 930.6,870.1 931.0,871.7 931.3,873.2 931.6,874.8 931.9,876.5 932.2,878.3 932.5,880.1 932.8,882.0 933.2,883.7 933.7,885.4 934.3,887.0 935.0,888.6 935.8,890.1 936.6,891.7 937.6,893.1 938.5,894.5 939.6,895.8 940.7,896.9 941.9,897.9 943.3,898.7 944.7,899.2 946.3,899.6 947.9,899.9 949.6,900.2 951.2,900.4 952.8,900.8 956.8,902.3 960.8,903.7 964.8,905.2 968.8,906.6 972.8,908.1 976.8,909.5 980.8,910.9 984.8,912.3 988.8,913.8 992.8,915.2 996.8,916.5 1000.8,917.9 1004.8,919.3 1008.8,920.7 1012.8,922.1 1016.8,923.4 1020.8,924.8 1024.8,926.1 1028.8,927.5 1032.8,928.8 1036.8,930.1 1040.8,931.4 1044.8,932.8 1048.8,934.1 1052.8,935.4 1056.8,936.7 1060.8,938.0 1064.8,939.2 1068.8,940.5 1072.8,941.8 1076.8,943.0 1080.8,944.3 1084.8,945.6 1088.8,946.8 1092.8,948.1 1096.8,949.3 1100.8,950.5 1104.8,951.7 1108.8,953.0 1112.8,954.2 1116.8,955.4 1120.8,956.6 1124.8,957.8 1128.8,959.0 1132.8,960.2 1136.8,961.4 1140.8,962.5 1144.8,963.7 1148.8,964.9 1152.8,966.0 1156.8,967.2 1160.8,968.3 1164.8,969.5 1168.8,970.6 1172.8,971.8 1176.8,972.9 1180.8,974.0 1184.8,975.2 1188.8,976.3 1192.8,977.4 1196.8,978.5 1200.8,979.6 1204.8,980.7 1208.8,981.8 1212.8,982.9 1216.8,984.0 1220.8,985.1 1224.8,986.2 1228.8,987.2 1232.8,988.3 1236.8,989.4 1240.8,990.4 1244.8,991.5 1248.8,992.6 1252.8,993.6 1256.8,994.7 1260.8,995.7 1264.8,996.7 1268.8,997.8 1272.8,998.8 1276.8,999.8 1280.8,1000.9 1284.8,1001.9 1288.8,1002.9 1292.8,1003.9 1296.8,1004.9 1300.8,1005.9 1304.8,1006.9 1308.8,1007.9 1312.8,1008.9 1316.8,1009.9 1320.8,1010.9 1324.8,1011.9 1328.8,1012.9 1332.8,1013.8 1336.8,1014.8 1340.8,1015.8 1344.8,1016.8 1348.8,1017.7 1352.8,1018.7 1356.8,1019.6 1360.8,1020.6 1364.8,1021.5 1368.8,1022.5 1372.8,1023.4 1376.8,1024.4 1380.8,1025.3 1384.8,1026.2 1388.8,1027.2 1392.8,1028.1 1396.8,1029.0 1400.8,1029.9 1404.8,1030.9 1408.8,1031.8 1412.8,1032.7 1416.8,1033.6 1420.8,1034.5 1424.8,1035.4 1428.8,1036.3 1432.8,1037.2 1436.8,1038.1 1440.8,1039.0 1444.8,1039.9 1448.8,1040.8 1452.8,1041.7 1456.8,1042.5 1460.8,1043.4 1464.8,1044.3 1468.8,1045.2 1472.8,1046.0 1476.8,1046.9 1480.8,1047.8 1484.8,1048.6 1488.8,1049.5 1492.8,1050.3 1496.8,1051.2 1500.8,1052.1 1504.8,1052.9 1508.8,1053.7 1512.8,1054.6 1516.8,1055.4 1520.8,1056.3 1524.8,1057.1 1528.8,1057.9 1532.8,1058.8 1536.8,1059.6 1540.8,1060.4 1544.8,1061.2 1548.8,1062.1 1552.8,1062.9 1556.8,1063.7 1560.8,1064.5 1564.8,1065.3 1568.8,1066.1 1572.8,1066.9 1576.8,1067.7 1580.8,1068.6 1584.8,1069.4 1588.8,1070.1 1592.8,1070.9 1596.8,1071.7 1600.8,1072.5 1604.8,1073.3 1608.8,1074.1 1612.8,1074.9 1616.8,1075.7 1620.8,1076.4 1624.8,1077.2 1628.8,1078.0 1632.8,1078.8 1636.8,1079.5 1640.8,1080.3 1644.8,1081.1 1648.8,1081.8 1652.8,1082.6 1656.8,1083.4 1660.8,1084.1 1664.8,1084.9 1668.8,1085.6 1672.8,1086.4 1676.8,1087.1 1680.8,1087.9 1684.8,1088.6 1688.8,1089.4 1692.8,1090.1 1696.8,1090.9 1700.8,1091.6 1704.8,1092.3 1708.8,1093.1 1712.8,1093.8 1716.8,1094.5 1720.8,1095.3 1724.8,1096.0 1728.8,1096.7 1732.8,1097.4 1736.8,1098.2 1740.8,1098.9 1744.8,1099.6 1748.8,1100.3 1752.8,1101.0 1756.8,1101.7 1760.8,1102.5 1764.8,1103.2 1768.8,1103.9 1772.8,1104.6 1776.8,1105.3 1780.8,1106.0 1784.8,1106.7 1788.8,1107.4 1792.8,1108.1 1796.8,1108.8 1800.8,1109.5 1804.8,1110.2 1808.8,1110.8 1812.8,1111.5 1816.8,1112.2 1820.8,1112.9 1824.8,1113.6 1828.8,1114.3 1832.8,1115.0 1836.8,1115.6 1840.8,1116.3 1844.8,1117.0 1848.8,1117.7 1852.8,1118.3 1856.8,1119.0 1860.8,1119.7 1864.8,1120.3 1868.8,1121.0 1872.8,1121.7 1876.8,1122.3 1880.8,1123.0 1884.8,1123.6 1888.8,1124.3 1892.8,1125.0 1896.8,1125.6 1900.8,1126.3 1904.8,1126.9 1908.8,1127.6 1912.8,1128.2 1916.8,1128.9 1920.8,1129.5 1924.8,1130.2 1928.8,1130.8 1932.8,1131.4 1936.8,1132.1 1940.8,1132.7 1944.8,1133.3 1948.8,1134.0 1952.8,1134.6 1956.8,1135.3 1960.8,1135.9 1964.8,1136.5 1968.8,1137.1 1972.8,1137.8 1976.8,1138.4 1980.8,1139.0 1984.8,1139.6 1988.8,1140.3 1992.8,1140.9 1996.8,1141.5 2000.8,1142.1 2004.8,1142.7 2008.8,1143.3 2012.8,1144.0 2016.8,1144.6 2020.8,1145.2 2024.8,1145.8 2028.8,1146.4 2032.8,1147.0 2036.8,1147.6 2040.8,1148.2 2044.8,1148.8 2048.8,1149.4 2052.8,1150.0 2056.8,1150.6 2060.8,1151.2 2064.8,1151.8 2068.8,1152.4 2072.8,1153.0 2076.8,1153.6 2080.8,1154.2 2084.8,1154.8 2088.8,1155.4 2092.8,1156.0 2096.8,1156.5 2100.8,1157.1 2104.8,1157.7 2108.8,1158.3 2112.8,1158.9 2116.8,1159.5 2120.8,1160.0 2124.8,1160.6 2128.8,1161.2 2132.8,1161.8 2136.8,1162.3 2140.8,1162.9 2144.8,1163.5 2148.8,1164.1 2152.8,1164.6 2156.8,1165.2 2160.8,1165.8 2164.8,1166.3 2168.8,1166.9 2172.8,1167.5 2176.8,1168.0 2180.8,1168.6 2184.8,1169.2 2188.8,1169.7 2192.8,1170.3 2196.8,1170.8 2200.8,1171.4 2204.8,1171.9 2208.8,1172.5 2212.8,1173.1 2216.8,1173.6 2220.8,1174.2 2224.8,1174.7 2228.8,1175.3 2232.8,1175.8 2236.8,1176.4 2240.8,1176.9 2244.8,1177.4 2248.8,1178.0 2252.8,1178.5 2256.8,1179.1 2260.8,1179.6 2264.8,1180.2 2268.8,1180.7 2272.8,1181.2 2276.8,1181.8 2280.8,1182.3 2284.8,1182.8 2288.8,1183.4 2292.8,1183.9 2296.8,1184.4 2300.8,1185.0 2304.8,1185.5 2308.8,1186.0 2312.8,1186.6 2316.8,1187.1 2320.8,1187.6 2324.8,1188.1 2327.0,1188.4"/><polyline fill="none" stroke="#f00" stroke-width="4.4" stroke-linejoin="round" points="266.0,441.0 266.1,442.8 266.1,444.6 266.2,446.4 266.3,448.2 266.3,450.0 266.4,451.9 266.4,453.7 266.5,455.5 266.6,457.3 266.6,459.1 266.7,460.9 266.8,462.7 266.8,464.5 266.9,466.4 266.9,468.2 267.0,470.0 267.1,471.8 267.1,473.5 267.2,475.3 267.2,477.0 267.3,478.8 267.3,480.6 267.3,482.3 267.4,484.1 267.4,485.9 267.5,487.6 267.5,489.4 267.6,491.2 267.6,492.9 267.7,494.7 267.7,496.5 267.8,498.2 267.8,500.0 267.8,501.8 267.9,503.5 267.9,505.3 268.0,507.1 268.0,508.8 268.1,510.6 268.1,512.4 268.2,514.1 268.2,515.9 268.3,517.6 268.3,519.4 268.4,521.2 268.4,522.9 268.4,524.7 268.5,526.5 268.5,528.2 268.6,530.0 268.7,531.8 268.7,533.5 268.8,535.3 268.8,537.1 268.9,538.9 268.9,540.7 269.0,542.5 269.1,544.3 269.1,546.1 269.2,547.8 269.2,549.6 269.3,551.4 269.4,553.1 269.4,554.9 269.5,556.6 269.5,558.3 269.6,560.0 269.7,561.9 269.7,563.7 269.8,565.6 269.9,567.5 269.9,569.4 270.0,571.2 270.0,573.0 270.1,574.9 270.2,576.6 270.2,578.4 270.3,580.1 270.4,581.8 270.5,583.4 270.6,585.0 270.7,586.8 270.9,588.5 271.0,590.1 271.2,591.6 271.4,593.2 271.5,594.8 271.7,596.4 271.9,598.1 272.0,600.0 272.1,601.5 272.2,603.1 272.3,604.7 272.4,606.4 272.5,608.2 272.6,609.9 272.6,611.8 272.7,613.6 272.8,615.5 272.9,617.3 273.0,619.2 273.0,621.1 273.1,622.9 273.2,624.7 273.3,626.5 273.4,628.3 273.5,630.0 273.6,631.9 273.7,633.7 273.8,635.5 274.0,637.3 274.1,639.1 274.2,640.9 274.3,642.6 274.4,644.4 274.6,646.2 274.7,647.9 274.8,649.7 274.9,651.4 275.1,653.2 275.2,655.0 275.3,656.8 275.4,658.5 275.6,660.3 275.7,662.0 275.8,663.7 275.9,665.4 276.1,667.1 276.2,668.9 276.3,670.6 276.4,672.4 276.6,674.3 276.7,676.1 276.9,678.0 277.0,680.0 277.1,681.6 277.2,683.3 277.4,685.0 277.5,686.7 277.6,688.5 277.7,690.2 277.9,692.0 278.0,693.9 278.1,695.7 278.3,697.6 278.4,699.4 278.5,701.3 278.7,703.2 278.8,705.1 278.9,707.0 279.1,708.8 279.2,710.7 279.4,712.6 279.5,714.5 279.7,716.3 279.8,718.2 280.0,720.0 280.2,721.8 280.3,723.7 280.5,725.6 280.7,727.5 280.9,729.4 281.0,731.3 281.2,733.2 281.4,735.1 281.6,737.0 281.8,738.9 282.0,740.8 282.2,742.7 282.4,744.6 282.5,746.4 282.7,748.3 282.9,750.1 283.1,751.8 283.3,753.5 283.5,755.2 283.7,756.9 283.8,758.5 284.0,760.0 284.2,761.9 284.4,763.7 284.6,765.5 284.8,767.1 285.0,768.7 285.1,770.3 285.3,771.9 285.5,773.4 285.7,775.1 286.0,776.8 286.2,778.5 286.5,780.4 286.7,782.0 287.0,783.6 287.3,785.3 287.6,787.0 287.9,788.7 288.2,790.5 288.5,792.3 288.8,794.2 289.2,796.0 289.5,797.9 289.9,799.8 290.2,801.6 290.6,803.5 291.0,805.4 291.3,807.2 291.7,809.0 292.0,810.8 292.4,812.6 292.7,814.3 293.1,816.0 293.5,817.8 293.9,819.7 294.3,821.5 294.7,823.4 295.1,825.3 295.5,827.1 295.9,828.9 296.3,830.7 296.7,832.5 297.1,834.2 297.5,835.9 297.9,837.5 298.3,839.1 298.7,840.6 299.1,842.0 299.5,843.4 300.1,845.3 300.6,847.1 301.1,848.7 301.6,850.3 302.2,851.7 302.8,853.2 303.5,854.6 304.3,856.1 305.2,857.6 306.1,859.1 307.1,860.4 308.1,861.5 309.1,862.4 310.4,862.9 311.7,863.0 313.0,863.1 314.1,863.6 314.9,864.4 315.5,865.4 316.0,866.5 316.4,867.8 316.9,869.2 317.3,870.6 317.6,872.1 318.0,873.8 318.2,875.6 318.5,877.4 318.8,879.3 319.1,881.2 319.4,883.1 319.7,884.9 320.0,886.5 320.4,888.1 320.7,889.7 321.0,891.4 321.4,893.0 321.8,894.7 322.1,896.3 322.5,898.0 322.9,899.6 323.3,901.2 323.7,902.8 324.1,904.5 324.5,906.2 325.0,907.9 325.4,909.6 325.8,911.3 326.3,913.0 326.7,914.6 327.2,916.0 327.7,917.4 328.2,918.6 328.8,920.0 329.5,921.4 330.2,922.6 330.9,923.5 331.5,923.8 332.2,923.2 332.9,921.9 333.6,920.2 334.3,918.6 335.0,917.0 335.7,915.2 336.4,913.4 337.1,912.1 337.7,911.6 338.2,912.1 338.7,913.3 339.2,915.0 339.6,917.0 340.0,919.0 340.5,920.8 340.9,922.3 341.3,923.9 341.7,925.6 342.1,927.2 342.6,928.8 343.0,930.4 343.5,932.0 344.0,933.5 344.6,934.9 345.2,936.4 345.8,937.8 346.3,939.2 346.9,940.6 347.5,942.0 348.1,943.5 348.6,945.0 349.2,946.5 349.8,948.0 350.4,949.5 351.0,951.0 351.6,952.4 352.3,953.8 353.0,955.3 353.8,956.7 354.5,958.1 355.3,959.6 356.0,961.0 356.8,962.5 357.6,964.0 358.3,965.5 359.1,967.0 359.9,968.5 360.7,970.0 361.5,971.5 362.2,972.9 362.9,974.2 363.6,975.5 364.3,976.9 365.0,978.2 365.8,979.6 366.5,981.0 367.2,982.3 367.9,983.7 368.6,985.2 369.3,986.6 370.1,988.1 370.8,989.5 371.6,991.0 372.3,992.4 373.1,993.8 373.9,995.3 374.7,996.7 375.5,998.1 376.3,999.5 377.2,1000.9 378.0,1002.3 378.9,1003.7 379.8,1005.0 380.7,1006.4 381.7,1007.7 382.6,1009.1 383.6,1010.5 384.6,1011.8 385.6,1013.0 386.6,1014.1 387.6,1015.1 388.8,1016.0 390.0,1016.7 391.2,1017.4 392.4,1018.0 393.6,1018.6 394.4,1017.6 395.2,1016.6 396.1,1015.6 396.8,1014.5 397.5,1013.2 397.9,1011.8 398.2,1010.0 398.5,1008.1 398.6,1006.1 398.8,1004.0 398.9,1002.0 399.2,1000.2 399.6,998.7 400.1,997.5 401.0,996.7 402.1,996.2 403.1,995.7 404.0,994.9 404.5,993.8 404.8,992.4 405.0,990.8 405.1,989.0 405.2,987.1 405.2,985.1 405.2,983.1 405.2,981.1 405.3,979.2 405.4,977.5 405.4,975.7 405.5,973.8 405.5,971.9 405.5,970.0 405.5,968.1 405.6,966.2 405.6,964.4 405.7,962.7 405.8,961.1 406.0,959.6 406.3,958.0 406.6,956.5 406.9,955.1 407.3,953.7 407.7,952.4 408.0,951.0 408.1,952.7 408.3,954.4 408.4,956.2 408.5,957.9 408.6,959.7 408.8,961.3 408.9,963.0 409.1,964.6 409.3,966.1 409.6,967.8 409.9,969.3 410.2,970.8 410.5,972.3 410.9,973.8 411.2,975.3 411.3,973.6 411.4,971.8 411.4,969.9 411.5,968.1 411.5,966.3 411.6,964.4 411.7,962.6 411.8,960.8 411.9,959.1 412.0,957.4 412.1,955.9 412.3,954.4 412.5,953.0 412.9,951.3 413.3,949.8 413.8,948.4 414.3,947.0 414.7,945.6 415.1,944.0 415.3,942.6 415.5,941.3 415.7,939.9 415.8,938.4 416.0,936.9 416.1,935.4 416.2,933.7 416.3,931.9 416.4,930.0 416.5,928.6 416.5,927.1 416.6,925.5 416.7,923.8 416.7,922.1 416.8,920.2 416.8,918.4 416.8,916.4 416.9,914.5 416.9,912.4 416.9,910.4 417.0,908.4 417.0,906.3 417.0,904.3 417.1,902.2 417.1,900.2 417.2,898.2 417.2,896.2 417.3,894.2 417.3,892.3 417.4,890.5 417.4,888.7 417.5,887.0 417.6,885.1 417.7,883.2 417.8,881.4 417.9,879.7 418.0,877.9 418.2,876.2 418.3,874.6 418.4,872.9 418.5,871.2 418.7,869.5 418.8,867.8 418.9,866.1 419.0,864.4 419.1,862.7 419.2,860.9 419.3,859.0 419.4,857.3 419.4,855.5 419.5,853.8 419.6,852.0 419.6,850.3 419.7,848.5 419.7,846.7 419.8,845.0 419.8,843.2 419.9,841.3 419.9,839.5 419.9,837.6 420.0,835.7 420.0,833.8 420.1,831.9 420.1,829.9 420.2,827.9 420.2,825.8 420.2,823.7 420.3,821.6 420.4,819.2 420.4,816.7 420.5,814.1 420.5,811.5 420.6,808.8 420.7,806.1 420.7,803.3 420.8,800.5 420.8,797.7 420.9,794.8 421.0,792.0 421.0,789.0 421.1,786.1 421.2,783.2 421.2,780.2 421.3,777.3 421.4,774.3 421.4,771.4 421.5,768.4 421.5,765.5 421.6,762.6 421.7,759.7 421.7,756.8 421.8,754.0 421.9,755.9 422.0,757.7 422.1,759.6 422.1,761.4 422.2,763.3 422.3,765.1 422.4,766.9 422.5,768.8 422.6,770.6 422.7,772.4 422.8,774.3 422.8,776.1 422.9,777.9 423.0,779.8 423.1,781.7 423.2,783.6 423.3,785.5 423.3,787.4 423.4,789.3 423.5,791.3 423.6,793.3 423.6,795.3 423.7,797.3 423.8,799.7 423.8,802.0 423.9,804.5 424.0,806.9 424.0,809.4 424.1,811.9 424.2,814.4 424.2,816.9 424.3,819.4 424.3,822.0 424.4,824.6 424.4,827.2 424.5,829.8 424.5,832.4 424.6,835.1 424.6,837.7 424.7,840.4 424.7,843.0 424.8,845.7 424.8,848.3 424.9,851.0 424.9,853.7 425.0,856.3 425.0,859.0 425.1,861.9 425.1,864.8 425.2,867.8 425.2,870.9 425.2,873.9 425.3,877.0 425.3,880.1 425.4,883.3 425.4,886.4 425.5,889.6 425.5,892.7 425.6,895.8 425.6,898.9 425.7,902.0 425.7,905.1 425.7,908.1 425.8,911.1 425.8,914.0 425.9,916.8 426.0,919.6 426.0,922.4 426.1,925.0 426.1,927.5 426.2,930.0 426.3,932.2 426.3,934.4 426.4,936.5 426.4,938.6 426.4,940.6 426.5,942.7 426.5,944.7 426.6,946.6 426.6,948.5 426.7,950.4 426.7,952.2 426.8,954.0 426.9,955.7 427.0,957.3 427.1,959.0 427.2,960.5 427.3,962.0 427.5,963.5 427.8,965.4 428.1,967.2 428.4,968.9 428.8,970.4 429.1,972.0 429.5,973.5 429.9,975.0 430.2,976.6 430.7,975.1 431.1,973.7 431.6,972.2 432.1,970.7 432.5,969.2 433.0,967.7 433.4,966.1 433.8,964.5 434.2,962.9 434.5,961.3 434.9,959.6 435.3,957.9 435.6,956.1 436.0,954.4 436.3,952.7 436.7,951.0 437.0,952.7 437.3,954.3 437.6,955.9 437.9,957.5 438.2,959.1 438.5,960.8 438.8,962.5 439.1,964.2 439.3,966.1 439.5,967.6 439.6,969.3 439.8,970.9 439.9,972.6 440.1,974.4 440.2,976.2 440.3,978.0 440.5,979.8 440.6,981.7 440.7,983.5 440.8,985.3 440.9,987.1 441.0,988.9 441.2,990.6 441.3,992.3 441.5,994.2 441.6,996.1 441.8,998.0 441.9,999.9 442.1,1001.8 442.2,1003.6 442.4,1005.5 442.5,1007.2 442.7,1008.9 442.9,1010.4 443.0,1011.9 443.2,1013.2 443.4,1014.7 443.7,1016.1 444.0,1017.3 444.2,1018.5 444.5,1019.7 447.1,1015.8 447.3,1017.5 447.5,1019.3 447.6,1021.2 447.8,1023.1 447.9,1024.9 448.1,1026.6 448.4,1028.1 448.7,1029.3 449.1,1030.2 449.7,1030.8 450.4,1031.2 451.1,1031.5 451.2,1029.7 451.3,1027.9 451.5,1026.1 451.6,1024.3 451.7,1022.5 451.8,1020.6 452.0,1018.8 452.1,1017.0 452.2,1015.2 452.3,1013.4 452.5,1011.7 452.6,1010.0 452.7,1008.4 452.9,1006.8 453.0,1005.3 453.2,1003.5 453.4,1001.8 453.5,1000.2 453.7,998.6 453.9,997.1 454.1,995.6 454.3,994.1 454.5,992.6 454.7,991.0 454.8,992.7 455.0,994.5 455.1,996.2 455.2,997.9 455.4,999.6 455.5,1001.3 455.7,1003.0 455.8,1004.7 455.9,1006.5 456.1,1008.3 456.2,1010.1 456.3,1011.9 456.4,1013.7 456.4,1015.6 456.4,1017.7 456.4,1019.8 456.4,1021.9 456.4,1024.1 456.4,1026.3 456.4,1028.4 456.4,1030.5 456.5,1032.4 456.6,1034.2 456.8,1035.8 457.0,1037.2 457.2,1038.4 457.6,1039.3 458.4,1040.4 459.2,1041.1 460.2,1041.3 461.1,1040.9 462.1,1039.9 463.2,1038.7 464.3,1037.5 465.4,1036.7 466.7,1036.2 468.0,1035.9 469.4,1035.8 470.7,1036.0 471.8,1036.5 472.8,1037.2 473.8,1038.1 474.8,1038.8 475.9,1039.3 477.2,1039.3 478.5,1038.9 479.8,1038.6 481.1,1038.7 482.2,1039.2 483.3,1040.1 484.4,1041.1 485.5,1042.3 486.6,1043.4 487.7,1044.5 488.4,1043.3 489.1,1042.2 489.7,1040.9 490.3,1039.3 490.6,1038.1 490.8,1036.6 491.0,1035.0 491.2,1033.3 491.3,1031.4 491.5,1029.5 491.6,1027.6 491.7,1025.6 491.8,1023.7 491.9,1021.8 492.0,1020.1 492.2,1018.4 492.4,1016.6 492.5,1014.7 492.7,1012.8 492.8,1011.0 492.9,1009.2 493.1,1007.6 493.4,1006.1 493.8,1004.9 494.2,1004.0 495.0,1003.1 495.9,1002.5 496.8,1002.4 497.6,1002.7 498.5,1003.3 499.3,1004.3 500.1,1005.3 500.8,1006.4 501.5,1007.8 502.1,1009.3 502.7,1010.9 503.3,1012.6 504.0,1014.2 504.6,1015.8 505.6,1014.9 506.6,1013.9 507.6,1013.1 508.6,1012.5 509.4,1012.3 510.3,1012.2 511.2,1012.5 512.1,1013.0 513.0,1013.8 514.1,1014.9 515.3,1016.1 516.5,1017.5 517.7,1019.0 519.0,1020.5 520.3,1022.1 521.6,1023.5 522.9,1024.9 524.0,1026.0 525.2,1027.2 526.4,1028.4 527.5,1029.6 528.8,1030.8 530.0,1032.0 531.2,1033.2 532.4,1034.4 533.7,1035.7 534.9,1036.9 536.2,1038.1 537.4,1039.3 538.6,1040.5 540.6,1042.3 542.6,1044.0 544.6,1045.8 546.6,1047.5 548.6,1049.3 550.6,1051.0 552.6,1052.7 554.6,1054.4 556.6,1056.1 558.6,1057.7 560.6,1059.4 562.6,1061.1 564.6,1062.7 566.6,1064.4 568.6,1066.0 570.6,1067.6 572.6,1069.2 574.6,1070.8 576.6,1072.4 578.6,1074.0 580.6,1075.6 582.6,1077.1 584.6,1078.7 586.6,1080.2 588.6,1081.7 590.6,1083.3 592.6,1084.8 594.6,1086.3 596.6,1087.8 598.6,1089.2 600.6,1090.7 602.6,1092.1 604.6,1093.6 606.6,1095.0 608.6,1096.4 610.6,1097.9 612.6,1099.3 614.6,1100.6 616.6,1102.0 618.6,1103.4 620.6,1104.8 622.6,1106.1 624.6,1107.5 626.6,1108.8 628.6,1110.1 630.6,1111.4 632.6,1112.7 634.6,1114.0 636.6,1115.3 638.6,1116.6 640.6,1117.9 642.6,1119.1 644.6,1120.4 646.6,1121.6 648.6,1122.8 650.6,1124.1 652.6,1125.3 654.6,1126.5 656.6,1127.7 658.6,1128.9 660.6,1130.1 662.6,1131.3 664.6,1132.4 666.6,1133.6 668.6,1134.8 670.6,1135.9 672.6,1137.1 674.6,1138.2 676.6,1139.3 678.6,1140.5 680.6,1141.6 682.6,1142.7 684.6,1143.8 686.6,1144.9 688.6,1146.0 690.6,1147.1 692.6,1148.1 694.6,1149.2 696.6,1150.3 698.6,1151.3 700.6,1152.4 702.6,1153.5 704.6,1154.5 706.6,1155.5 708.6,1156.6 710.6,1157.6 712.6,1158.6 714.6,1159.7 716.6,1160.7 718.6,1161.7 720.6,1162.7 722.6,1163.7 724.6,1164.7 726.6,1165.7 728.6,1166.7 730.6,1167.7 732.6,1168.7 734.6,1169.7 736.6,1170.8 738.6,1171.8 740.6,1172.8 742.6,1173.8 744.6,1174.9 746.6,1175.9 748.6,1177.0 750.6,1178.0 752.6,1179.1 754.6,1180.2 756.6,1181.3 758.6,1182.4 760.6,1183.5 762.6,1184.6 764.6,1185.7 766.6,1186.8 768.6,1187.9 770.6,1189.0 772.6,1190.1 774.6,1191.2 776.6,1192.3 778.6,1193.4 780.6,1194.4 782.6,1195.5 784.6,1196.5 786.6,1197.5 788.6,1198.5 790.6,1199.5 792.6,1200.5 794.6,1201.4 796.6,1202.3 798.6,1203.3 800.6,1204.2 802.6,1205.1 804.6,1206.0 806.6,1206.9 808.6,1207.8 810.6,1208.7 812.6,1209.6 814.6,1210.5 816.6,1211.3 818.6,1212.2 820.6,1213.1 822.6,1213.9 824.6,1214.8 826.6,1215.7 828.6,1216.5 830.6,1217.4 832.6,1218.3 834.6,1219.1 836.6,1220.0 838.6,1220.8 840.6,1221.7 842.6,1222.5 844.6,1223.4 846.6,1224.2 848.6,1225.1 850.6,1225.9 852.6,1226.8 854.6,1227.6 856.6,1228.4 858.6,1229.3 860.6,1230.1 862.6,1230.9 864.6,1231.8 866.6,1232.6 868.6,1233.4 870.6,1234.2 872.6,1235.1 874.6,1235.9 876.6,1236.7 878.6,1237.5 880.6,1238.3 882.6,1239.1 884.6,1240.0 886.6,1240.8 888.6,1241.6 890.6,1242.4 892.6,1243.2 894.6,1244.0 896.6,1244.8 898.6,1245.6 900.6,1246.3 902.6,1247.1 904.6,1247.9 906.6,1248.7 908.6,1249.5 910.6,1250.3 912.6,1251.0 914.6,1251.8 916.6,1252.6 918.6,1253.4 920.6,1254.1 922.6,1254.9 924.6,1255.6 926.6,1256.4 928.6,1257.2 930.6,1257.9 932.6,1258.7 934.6,1259.4 936.6,1260.2 938.6,1260.9 940.6,1261.6 942.6,1262.4 944.6,1263.1 946.6,1263.8 948.6,1264.6 950.6,1265.3 952.6,1266.0 954.6,1266.7 956.6,1267.4 958.6,1268.2 960.6,1268.9 962.6,1269.6 964.6,1270.3 966.6,1271.0 968.6,1271.7 970.6,1272.4 972.6,1273.1 974.6,1273.7 976.6,1274.4 978.6,1275.1 980.6,1275.8 982.6,1276.5 984.6,1277.1 986.6,1277.8 988.6,1278.5 990.6,1279.1 992.6,1279.8 994.6,1280.5 996.6,1281.1 998.6,1281.8 1000.6,1282.4 1002.6,1283.1 1004.6,1283.7 1006.6,1284.3 1008.6,1285.0 1010.6,1285.6 1012.6,1286.2 1014.6,1286.9 1016.6,1287.5 1018.6,1288.1 1020.6,1288.7 1022.6,1289.3 1024.6,1290.0 1026.6,1290.6 1028.6,1291.2 1030.6,1291.8 1032.6,1292.4 1034.6,1293.0 1036.6,1293.6 1038.6,1294.2 1040.6,1294.8 1042.6,1295.4 1044.6,1296.0 1046.6,1296.6 1048.6,1297.1 1050.6,1297.7 1052.6,1298.3 1054.6,1298.9 1056.6,1299.5 1058.6,1300.0 1060.6,1300.6 1062.6,1301.2 1064.6,1301.8 1066.6,1302.3 1068.6,1302.9 1070.6,1303.5 1072.6,1304.0 1074.6,1304.6 1076.6,1305.1 1078.6,1305.7 1080.6,1306.2 1082.6,1306.8 1084.6,1307.3 1086.6,1307.9 1088.6,1308.4 1090.6,1309.0 1092.6,1309.5 1094.6,1310.1 1096.6,1310.6 1098.6,1311.1 1100.6,1311.7 1102.6,1312.2 1104.6,1312.8 1106.6,1313.3 1108.6,1313.8 1110.6,1314.4 1112.6,1314.9 1114.6,1315.4 1116.6,1315.9 1118.6,1316.5 1120.6,1317.0 1122.6,1317.5 1124.6,1318.0 1126.6,1318.5 1128.6,1319.0 1130.6,1319.6 1132.6,1320.1 1134.6,1320.6 1136.6,1321.1 1138.6,1321.6 1140.6,1322.1 1142.6,1322.5 1144.6,1323.0 1146.6,1323.5 1148.6,1324.0 1150.6,1324.5 1152.6,1324.9 1154.6,1325.4 1156.6,1325.9 1158.6,1326.3 1160.6,1326.8 1162.6,1327.2 1164.6,1327.7 1166.6,1328.1 1168.6,1328.5 1170.6,1329.0 1172.6,1329.4 1174.6,1329.8 1176.6,1330.2 1178.6,1330.6 1180.6,1331.0 1182.6,1331.4 1184.6,1331.8 1186.6,1332.2 1188.6,1332.6 1190.6,1332.9 1192.6,1333.3 1194.6,1333.7 1196.6,1334.0 1198.6,1334.3 1200.6,1334.7 1202.6,1335.0 1204.6,1335.3 1206.6,1335.6 1208.6,1335.9 1210.6,1336.2 1212.6,1336.5 1214.6,1336.8 1216.6,1337.1 1218.6,1337.4 1220.6,1337.6 1222.6,1337.9 1224.6,1338.1 1226.6,1338.3 1228.6,1338.5 1230.6,1338.8 1232.6,1339.0 1234.6,1339.2 1236.6,1339.3 1238.6,1339.5 1240.6,1339.7 1242.6,1339.8 1244.6,1340.0 1246.6,1340.1 1248.6,1340.2 1250.6,1340.3 1252.6,1340.4 1254.6,1340.4 1256.6,1340.4 1258.6,1340.3 1260.6,1340.3 1262.6,1340.1 1264.6,1340.0 1266.6,1339.8 1268.6,1339.5 1270.6,1339.2 1272.6,1338.9 1274.6,1338.4 1276.6,1338.0 1278.6,1337.4 1280.6,1336.8 1282.6,1336.1 1284.6,1335.3 1286.6,1334.5 1288.6,1333.6 1290.6,1332.6 1292.6,1331.5 1294.6,1330.3 1296.6,1329.1 1298.6,1327.7 1300.6,1326.2 1302.6,1324.6 1304.6,1322.8 1306.6,1320.9 1308.6,1318.9 1310.0,1317.4 1310.8,1316.2 1311.5,1314.9 1312.3,1313.7 1313.0,1312.4 1313.7,1311.2 1314.3,1309.9 1314.9,1308.6 1315.4,1307.3 1316.0,1306.0 1316.5,1296.0 1318.5,1299.0 1319.2,1298.7 1319.9,1298.5 1320.5,1298.0 1321.0,1297.0 1321.3,1295.7 1321.5,1294.3 1321.8,1293.0 1322.0,1291.9 1322.3,1290.9 1322.5,1289.9 1322.7,1288.7 1322.9,1287.4 1323.2,1285.9 1323.4,1284.4 1323.6,1282.8 1323.8,1281.2 1324.0,1279.7 1324.1,1278.2 1324.3,1276.7 1324.5,1275.0 1324.6,1273.4 1324.8,1271.7 1324.9,1270.0 1325.0,1268.4 1325.1,1266.8 1325.2,1265.2 1325.3,1263.5 1325.3,1261.8 1325.4,1260.1 1325.5,1258.3 1325.5,1256.5 1325.6,1254.6 1325.7,1253.0 1325.7,1251.4 1325.8,1249.8 1325.9,1248.2 1325.9,1246.5 1326.0,1244.8 1326.1,1243.0 1326.1,1241.2 1326.2,1239.5 1326.3,1237.7 1326.3,1235.8 1326.4,1234.0 1326.4,1232.2 1326.5,1230.3 1326.5,1228.6 1326.6,1226.9 1326.6,1225.2 1326.6,1223.4 1326.7,1221.7 1326.7,1219.9 1326.7,1218.1 1326.8,1216.3 1326.8,1214.4 1326.8,1212.6 1326.8,1210.8 1326.9,1208.9 1326.9,1207.1 1326.9,1205.3 1326.9,1203.4 1326.9,1201.6 1327.0,1199.8 1327.0,1198.0 1330.8,1238.4 1331.0,1236.6 1331.3,1234.8 1331.5,1233.0 1331.8,1231.2 1332.0,1229.4 1332.3,1227.6 1332.5,1225.8 1332.8,1224.0 1333.1,1222.2 1333.3,1220.4 1333.5,1218.6 1333.8,1216.8 1334.0,1215.0 1334.2,1213.2 1334.4,1211.4 1334.6,1209.6 1334.8,1207.8 1334.9,1206.0 1335.0,1204.2 1335.1,1202.4 1335.2,1200.7 1335.3,1198.9 1335.4,1197.2 1335.4,1195.4 1335.5,1193.7 1335.5,1191.9 1335.5,1190.2 1335.5,1188.4 1335.6,1186.6 1335.6,1184.8 1335.6,1183.0 1335.6,1181.2 1335.6,1179.3 1335.6,1177.4 1335.7,1175.5 1335.7,1173.5 1335.7,1171.7 1335.8,1169.8 1335.8,1168.0 1335.8,1166.1 1335.9,1164.2 1335.9,1162.4 1335.9,1160.4 1336.0,1158.5 1336.0,1156.6 1336.0,1154.6 1336.1,1152.7 1336.1,1150.7 1336.1,1148.6 1336.2,1146.6 1336.2,1144.5 1336.2,1142.5 1336.3,1140.4 1336.3,1138.2 1336.3,1136.1 1336.4,1133.9 1336.4,1131.7 1336.4,1129.5 1336.5,1127.2 1336.5,1124.9 1336.5,1121.8 1336.6,1118.6 1336.6,1115.2 1336.7,1111.8 1336.7,1108.3 1336.8,1104.7 1336.8,1101.1 1336.9,1097.4 1336.9,1093.6 1337.0,1089.9 1337.0,1086.1 1337.1,1082.3 1337.1,1078.5 1337.2,1074.7 1337.2,1070.9 1337.3,1067.2 1337.3,1063.5 1337.4,1059.8 1337.4,1056.3 1337.5,1052.8 1337.5,1049.3 1337.5,1046.0 1337.6,1042.8 1337.6,1039.7 1337.6,1037.4 1337.6,1035.3 1337.7,1033.1 1337.7,1031.0 1337.7,1029.0 1337.7,1027.0 1337.7,1025.0 1337.7,1023.1 1337.7,1021.1 1337.7,1019.2 1337.7,1017.3 1337.8,1015.5 1337.8,1013.6 1337.8,1011.7 1337.8,1009.8 1337.8,1007.9 1337.8,1006.0 1337.8,1004.1 1337.8,1002.1 1337.9,1000.1 1337.9,998.1 1337.9,996.1 1338.0,994.0 1338.0,991.8 1338.1,989.1 1338.1,986.4 1338.2,983.7 1338.2,980.9 1338.3,978.1 1338.4,975.3 1338.5,972.4 1338.5,969.5 1338.6,966.6 1338.7,963.6 1338.8,960.7 1338.9,957.7 1339.0,954.7 1339.1,951.7 1339.2,948.8 1339.3,945.8 1339.4,942.8 1339.5,939.8 1339.6,936.8 1339.6,933.8 1339.7,930.8 1339.8,927.9 1339.9,924.9 1340.0,922.0 1340.1,924.0 1340.2,926.0 1340.2,928.0 1340.3,930.1 1340.4,932.1 1340.5,934.1 1340.6,936.2 1340.7,938.2 1340.7,940.3 1340.8,942.3 1340.9,944.4 1341.0,946.4 1341.1,948.4 1341.1,950.5 1341.2,952.5 1341.3,954.5 1341.4,956.5 1341.5,958.4 1341.6,960.4 1341.6,962.3 1341.7,964.2 1341.8,966.1 1341.9,968.0 1342.0,969.8 1342.1,971.7 1342.2,973.5 1342.3,975.3 1342.4,977.1 1342.5,978.8 1342.6,980.4 1342.8,982.1 1342.9,983.7 1343.0,985.3 1343.1,987.0 1343.2,988.6 1343.3,990.3 1343.4,992.1 1343.5,993.9 1343.6,995.7 1343.7,997.6 1343.8,999.6 1343.9,1001.6 1344.0,1003.8 1344.1,1006.7 1344.2,1009.7 1344.3,1012.9 1344.3,1016.2 1344.4,1019.6 1344.5,1023.1 1344.5,1026.6 1344.6,1030.3 1344.6,1034.0 1344.7,1037.8 1344.7,1041.7 1344.8,1045.6 1344.8,1049.5 1344.8,1053.5 1344.9,1057.5 1344.9,1061.4 1344.9,1065.4 1345.0,1069.4 1345.0,1073.4 1345.0,1077.3 1345.1,1081.2 1345.1,1085.1 1345.2,1088.9 1345.2,1092.6 1345.3,1090.4 1345.4,1088.2 1345.6,1086.0 1345.7,1083.8 1345.8,1081.5 1345.9,1079.3 1346.1,1077.1 1346.2,1074.9 1346.3,1072.6 1346.4,1070.4 1346.6,1068.2 1346.7,1066.0 1346.8,1063.8 1346.9,1061.6 1347.0,1059.3 1347.2,1057.1 1347.3,1054.9 1347.4,1052.7 1347.5,1050.6 1347.6,1048.4 1347.7,1046.2 1347.8,1044.0 1347.9,1041.9 1348.0,1039.7 1348.1,1037.7 1348.2,1035.7 1348.2,1033.7 1348.3,1031.8 1348.4,1029.9 1348.5,1028.0 1348.5,1026.2 1348.6,1024.3 1348.7,1022.4 1348.7,1020.6 1348.8,1018.7 1348.9,1016.9 1348.9,1015.0 1349.0,1013.1 1349.0,1011.1 1349.1,1009.2 1349.2,1007.2 1349.2,1005.1 1349.3,1003.0 1349.3,1000.9 1349.4,998.7 1349.4,996.5 1349.5,994.2 1349.5,991.8 1349.6,988.1 1349.6,984.2 1349.7,980.2 1349.7,976.1 1349.8,971.9 1349.8,967.6 1349.9,963.2 1349.9,958.7 1349.9,954.2 1350.0,949.5 1350.0,944.8 1350.0,940.1 1350.1,935.2 1350.1,930.4 1350.1,925.4 1350.1,920.5 1350.1,915.5 1350.2,910.4 1350.2,905.4 1350.2,900.3 1350.2,895.3 1350.2,890.2 1350.3,885.1 1350.3,880.0 1350.3,873.8 1350.4,867.5 1350.4,861.1 1350.4,854.6 1350.4,847.9 1350.4,841.1 1350.4,834.3 1350.4,827.4 1350.5,820.4 1350.5,813.5 1350.5,806.5 1350.5,799.4 1350.5,792.4 1350.5,785.5 1350.5,778.5 1350.5,771.6 1350.6,764.8 1350.6,758.0 1350.6,751.4 1350.7,744.8 1350.7,738.4 1350.8,732.1 1350.8,726.0 1350.9,720.0 1351.0,715.4 1351.0,710.8 1351.1,706.4 1351.2,702.0 1351.2,697.6 1351.3,693.4 1351.4,689.1 1351.5,684.9 1351.6,680.8 1351.7,676.7 1351.8,672.6 1351.9,668.5 1352.0,664.5 1352.1,660.5 1352.1,656.5 1352.2,652.5 1352.3,648.5 1352.4,644.5 1352.5,640.4 1352.6,636.4 1352.7,632.3 1352.8,628.3 1352.9,624.1 1353.0,620.0 1353.1,621.8 1353.3,623.6 1353.4,625.3 1353.6,627.0 1353.7,628.7 1353.9,630.4 1354.0,632.1 1354.2,633.8 1354.3,635.5 1354.5,637.2 1354.6,638.9 1354.8,640.6 1354.9,642.3 1355.0,644.1 1355.2,645.9 1355.3,647.8 1355.4,649.7 1355.6,651.6 1355.7,653.6 1355.8,655.7 1355.9,657.8 1356.0,660.0 1356.1,663.3 1356.3,666.7 1356.4,670.1 1356.5,673.7 1356.6,677.4 1356.6,681.2 1356.7,685.0 1356.8,689.0 1356.8,693.0 1356.9,697.0 1356.9,701.2 1356.9,705.4 1357.0,709.7 1357.0,714.1 1357.0,718.5 1357.1,722.9 1357.1,727.4 1357.1,732.0 1357.1,736.6 1357.2,741.2 1357.2,745.8 1357.2,750.5 1357.3,755.3 1357.3,760.0 1357.4,766.4 1357.4,772.9 1357.5,779.6 1357.5,786.5 1357.6,793.4 1357.6,800.5 1357.7,807.7 1357.7,815.0 1357.7,822.4 1357.8,829.8 1357.8,837.3 1357.9,844.9 1357.9,852.5 1357.9,860.2 1358.0,867.8 1358.0,875.5 1358.0,883.2 1358.1,890.8 1358.1,898.5 1358.1,906.1 1358.2,913.7 1358.2,921.2 1358.3,928.6 1358.3,936.0 1358.3,931.1 1358.4,926.2 1358.4,921.2 1358.5,916.1 1358.5,911.0 1358.5,905.9 1358.6,900.7 1358.6,895.6 1358.6,890.4 1358.7,885.2 1358.7,880.1 1358.7,875.0 1358.8,869.9 1358.8,864.9 1358.9,860.0 1358.9,855.1 1358.9,850.3 1359.0,845.6 1359.0,841.0 1359.1,836.5 1359.1,832.2 1359.2,828.0 1359.2,823.9 1359.3,820.0 1359.3,817.5 1359.4,814.9 1359.4,812.4 1359.4,809.8 1359.4,807.3 1359.4,804.7 1359.4,802.2 1359.4,799.7 1359.5,797.3 1359.5,794.9 1359.5,792.5 1359.5,790.2 1359.5,788.0 1359.5,785.8 1359.6,783.7 1359.6,781.7 1359.7,779.8 1359.8,778.1 1359.8,776.4 1359.9,774.8 1360.1,773.4 1360.2,772.1 1360.3,771.0 1360.5,770.0 1360.8,768.5 1361.2,767.2 1361.6,766.3 1362.0,766.0 1362.3,766.5 1362.5,767.8 1362.7,770.0 1362.9,772.8 1363.1,776.4 1363.2,780.5 1363.3,785.2 1363.4,790.4 1363.4,796.1 1363.4,802.2 1363.5,808.6 1363.5,815.3 1363.5,822.2 1363.5,829.3 1363.4,836.5 1363.4,843.7 1363.4,851.0 1363.4,858.2 1363.4,865.3 1363.4,872.2 1363.4,878.9 1363.4,885.3 1363.4,891.3 1363.5,897.0 1363.5,893.0 1363.6,888.9 1363.6,884.9 1363.7,880.9 1363.7,876.8 1363.7,872.8 1363.8,868.8 1363.8,864.7 1363.8,860.7 1363.9,856.7 1363.9,852.6 1364.0,848.6 1364.0,844.6 1364.0,840.5 1364.1,836.5 1364.1,832.4 1364.1,828.4 1364.2,824.4 1364.2,820.3 1364.3,816.3 1364.3,812.2 1364.3,808.1 1364.4,804.1 1364.4,800.0 1364.4,795.8 1364.5,791.6 1364.5,787.4 1364.5,783.1 1364.6,778.8 1364.6,774.5 1364.6,770.2 1364.7,765.8 1364.7,761.5 1364.7,757.2 1364.8,752.8 1364.8,748.5 1364.8,744.2 1364.9,739.9 1364.9,735.7 1364.9,731.5 1365.0,727.4 1365.0,723.2 1365.0,719.2 1365.1,715.2 1365.1,711.3 1365.1,707.4 1365.2,703.7 1365.2,700.0 1365.2,697.2 1365.2,694.5 1365.3,691.8 1365.3,689.2 1365.3,686.7 1365.3,684.1 1365.4,681.6 1365.4,679.2 1365.4,676.8 1365.4,674.4 1365.4,672.0 1365.5,669.6 1365.5,667.2 1365.5,664.8 1365.5,662.5 1365.6,660.1 1365.6,657.7 1365.6,655.2 1365.6,652.8 1365.7,650.3 1365.7,647.8 1365.7,645.3 1365.8,642.7 1365.8,640.0 1365.8,636.9 1365.9,633.8 1365.9,630.7 1366.0,627.6 1366.0,624.5 1366.1,621.4 1366.2,618.3 1366.2,615.1 1366.3,611.9 1366.3,608.7 1366.4,605.5 1366.5,602.3 1366.5,599.0 1366.6,595.7 1366.7,592.3 1366.7,588.9 1366.8,585.5 1366.8,582.0 1366.9,578.5 1367.0,574.9 1367.0,571.3 1367.1,567.6 1367.1,563.8 1367.2,560.0 1367.3,554.6 1367.3,549.1 1367.4,543.5 1367.5,537.7 1367.6,531.8 1367.6,525.8 1367.7,519.7 1367.8,513.5 1367.8,507.2 1367.9,500.8 1368.0,494.4 1368.0,487.9 1368.1,481.4 1368.2,474.9 1368.2,468.3 1368.3,461.7 1368.3,455.2 1368.4,448.6 1368.5,442.1 1368.5,435.5 1368.6,429.1 1368.7,422.6 1368.7,416.3 1368.8,410.0 1368.9,416.3 1368.9,422.6 1369.0,429.1 1369.0,435.5 1369.1,442.1 1369.2,448.6 1369.2,455.2 1369.3,461.7 1369.3,468.3 1369.4,474.9 1369.5,481.4 1369.5,487.9 1369.6,494.4 1369.6,500.8 1369.7,507.2 1369.8,513.5 1369.8,519.7 1369.9,525.8 1369.9,531.8 1370.0,537.7 1370.1,543.5 1370.2,549.1 1370.2,554.6 1370.3,560.0 1370.4,563.8 1370.4,567.5 1370.5,571.1 1370.5,574.6 1370.6,578.0 1370.7,581.4 1370.7,584.7 1370.8,587.9 1370.9,591.1 1370.9,594.3 1371.0,597.4 1371.1,600.5 1371.1,603.7 1371.2,606.8 1371.3,609.9 1371.3,613.1 1371.4,616.2 1371.5,619.4 1371.5,622.7 1371.6,626.0 1371.6,629.4 1371.7,632.8 1371.8,636.4 1371.8,640.0 1371.9,644.5 1371.9,649.2 1372.0,653.9 1372.0,658.7 1372.1,663.6 1372.1,668.6 1372.1,673.6 1372.2,678.6 1372.2,683.7 1372.2,688.8 1372.3,694.0 1372.3,699.2 1372.3,704.4 1372.4,709.5 1372.4,714.7 1372.4,719.9 1372.5,725.1 1372.5,730.2 1372.5,735.3 1372.6,740.4 1372.6,745.4 1372.6,750.3 1372.7,755.2 1372.7,760.0 1372.7,764.3 1372.8,768.7 1372.8,772.9 1372.9,777.2 1372.9,781.4 1372.9,785.6 1373.0,789.8 1373.0,794.0 1373.1,798.2 1373.1,802.3 1373.1,806.5 1373.2,810.6 1373.2,814.7 1373.3,818.8 1373.3,822.9 1373.3,827.0 1373.4,831.1 1373.4,835.2 1373.4,839.3 1373.5,843.4 1373.5,847.6 1373.5,851.7 1373.6,855.8 1373.6,860.0 1373.6,864.2 1373.6,868.4 1373.7,872.7 1373.7,876.9 1373.7,881.2 1373.7,885.6 1373.7,889.9 1373.7,894.2 1373.7,898.5 1373.7,902.9 1373.7,907.2 1373.7,911.5 1373.7,915.8 1373.7,920.0 1373.7,924.2 1373.7,928.4 1373.7,932.5 1373.7,936.6 1373.8,940.7 1373.8,944.6 1373.8,948.5 1373.9,952.4 1373.9,956.1 1374.0,959.8 1374.1,962.6 1374.1,965.3 1374.2,968.0 1374.2,970.7 1374.3,973.3 1374.4,975.8 1374.4,978.4 1374.5,980.9 1374.6,983.4 1374.7,985.8 1374.8,988.3 1374.8,990.7 1374.9,993.1 1375.0,995.5 1375.1,997.9 1375.2,1000.3 1375.3,1002.7 1375.4,1005.1 1375.5,1007.5 1375.6,1009.9 1375.7,1012.3 1375.8,1014.8 1375.9,1017.2 1376.0,1019.7 1376.1,1022.2 1376.2,1024.8 1376.3,1027.3 1376.4,1029.9 1376.5,1032.5 1376.7,1035.2 1376.8,1037.8 1376.9,1040.5 1377.0,1043.1 1377.1,1045.7 1377.3,1048.4 1377.4,1051.0 1377.5,1053.6 1377.6,1056.1 1377.8,1058.7 1377.9,1061.2 1378.0,1063.7 1378.2,1066.1 1378.3,1068.5 1378.4,1070.8 1378.6,1073.1 1378.7,1075.4 1378.9,1077.5 1379.0,1079.6 1379.2,1081.7 1379.3,1083.7 1379.5,1085.6 1379.6,1087.5 1379.8,1089.3 1380.0,1091.0 1380.2,1092.7 1380.3,1094.4 1380.5,1096.1 1380.7,1097.8 1380.9,1099.5 1381.0,1101.3 1381.2,1103.1 1381.4,1104.9 1381.5,1106.9 1381.7,1108.9 1381.8,1110.7 1382.0,1112.6 1382.1,1114.6 1382.2,1116.6 1382.4,1118.6 1382.5,1120.7 1382.6,1122.8 1382.8,1124.9 1382.9,1127.0 1383.0,1129.2 1383.1,1131.4 1383.3,1133.6 1383.4,1135.8 1383.5,1138.0 1383.7,1140.2 1383.8,1142.4 1383.9,1144.6 1384.1,1146.8 1384.2,1148.9 1384.4,1151.1 1384.5,1153.2 1384.7,1155.3 1384.8,1157.4 1385.0,1159.4 1385.2,1161.3 1385.3,1163.2 1385.5,1165.1 1385.7,1167.0 1385.8,1168.9 1386.0,1170.8 1386.2,1172.7 1386.4,1174.5 1386.6,1176.4 1386.8,1178.2 1387.0,1180.1 1387.1,1181.9 1387.3,1183.7 1387.5,1185.6 1387.7,1187.4 1387.9,1189.2 1388.1,1191.0 1388.3,1192.7 1388.5,1194.5 1388.7,1196.3 1388.9,1198.0 1389.1,1199.8 1389.3,1201.5 1389.5,1203.5 1389.7,1205.4 1389.9,1207.4 1390.2,1209.3 1390.4,1211.2 1390.6,1213.1 1390.8,1215.0 1391.0,1216.9 1391.2,1218.8 1391.4,1220.6 1391.6,1222.5 1391.9,1224.3 1392.1,1226.2 1392.4,1228.0 1392.6,1229.8 1392.9,1231.6 1393.2,1233.4 1393.5,1235.2 1393.8,1237.1 1394.2,1238.9 1394.5,1240.8 1394.9,1242.7 1395.3,1244.6 1395.7,1246.4 1396.0,1248.3 1396.5,1250.1 1396.9,1251.9 1397.3,1253.7 1397.7,1255.5 1398.2,1257.2 1398.7,1258.9 1399.2,1260.6 1399.7,1262.2 1400.2,1263.8 1400.8,1265.5 1401.4,1267.3 1402.0,1269.0 1402.7,1270.6 1403.3,1272.2 1404.0,1273.8 1404.7,1275.4 1405.4,1276.9 1406.2,1278.4 1406.9,1279.8 1407.8,1281.1 1408.6,1282.4 1409.6,1283.8 1410.6,1285.1 1411.7,1286.4 1412.9,1287.6 1414.0,1288.7 1415.2,1289.8 1416.4,1290.8 1417.5,1291.7 1418.7,1292.5 1420.1,1293.4 1421.6,1294.3 1423.1,1295.0 1424.5,1295.6 1425.9,1295.8 1427.1,1295.8 1428.3,1295.3 1429.3,1294.3 1430.3,1293.2 1431.2,1291.9 1432.2,1290.8 1432.5,1289.2 1432.7,1287.6 1433.0,1286.1 1433.2,1284.6 1433.5,1282.9 1433.7,1281.1 1433.9,1279.0 1434.0,1277.7 1434.1,1276.2 1434.1,1274.6 1434.2,1273.0 1434.2,1271.2 1434.3,1269.4 1434.3,1267.6 1434.3,1265.6 1434.3,1263.7 1434.3,1261.7 1434.3,1259.6 1434.3,1257.6 1434.3,1255.6 1434.3,1253.5 1434.3,1251.5 1434.3,1249.5 1434.3,1247.5 1434.3,1245.6 1434.4,1243.8 1434.4,1242.0 1434.4,1240.2 1434.5,1238.6 1434.6,1236.5 1434.6,1234.5 1434.7,1232.5 1434.8,1230.5 1434.9,1228.6 1434.9,1226.7 1435.0,1224.8 1435.1,1223.0 1435.3,1221.3 1435.4,1219.6 1435.6,1218.0 1435.8,1216.5 1436.0,1215.0 1436.3,1213.3 1436.7,1211.8 1437.1,1210.4 1437.6,1209.0 1438.0,1207.7 1438.5,1206.4 1438.9,1205.0 1439.0,1206.8 1439.0,1208.5 1439.1,1210.2 1439.1,1211.9 1439.2,1213.6 1439.2,1215.3 1439.3,1217.0 1439.3,1218.8 1439.4,1220.5 1439.4,1222.2 1439.5,1224.0 1439.6,1225.8 1439.6,1227.6 1439.7,1229.4 1439.7,1231.3 1439.8,1233.2 1439.8,1235.2 1439.8,1237.1 1439.9,1239.0 1439.9,1240.9 1440.0,1242.9 1440.0,1244.9 1440.0,1246.9 1440.1,1249.0 1440.1,1251.1 1440.1,1253.2 1440.2,1255.3 1440.2,1257.5 1440.2,1259.6 1440.3,1261.8 1440.3,1264.0 1440.3,1266.2 1440.3,1268.4 1440.4,1270.6 1440.4,1272.8 1440.4,1275.0 1440.5,1277.1 1440.5,1279.3 1440.5,1281.5 1440.6,1283.6 1440.6,1285.7 1443.1,1240.0 1444.6,1262.0 1446.2,1206.0 1446.2,1202.0 1446.3,1198.0 1446.3,1193.9 1446.4,1189.8 1446.4,1185.7 1446.4,1181.6 1446.5,1177.5 1446.5,1173.4 1446.6,1169.3 1446.6,1165.2 1446.6,1161.1 1446.7,1157.1 1446.7,1153.0 1446.7,1148.9 1446.8,1144.9 1446.8,1140.9 1446.9,1136.9 1446.9,1132.9 1447.0,1129.0 1447.0,1125.1 1447.0,1121.3 1447.1,1117.5 1447.1,1113.7 1447.2,1110.0 1447.2,1106.9 1447.3,1103.7 1447.3,1100.6 1447.4,1097.5 1447.4,1094.4 1447.5,1091.3 1447.5,1088.2 1447.6,1085.1 1447.6,1082.1 1447.7,1079.1 1447.7,1076.1 1447.8,1073.1 1447.8,1070.1 1447.9,1067.2 1448.0,1064.3 1448.0,1061.5 1448.1,1058.7 1448.1,1055.9 1448.2,1053.1 1448.3,1050.4 1448.3,1047.7 1448.4,1045.1 1448.4,1042.5 1448.5,1040.0 1448.6,1038.0 1448.6,1035.9 1448.7,1034.0 1448.7,1032.0 1448.8,1030.2 1448.8,1028.3 1448.9,1026.4 1449.0,1024.6 1449.0,1022.8 1449.1,1021.1 1449.1,1019.3 1449.2,1017.6 1449.3,1015.8 1449.3,1014.1 1449.4,1012.3 1449.4,1010.6 1449.5,1008.9 1449.6,1007.1 1449.6,1005.4 1449.7,1003.6 1449.7,1001.8 1449.8,1000.0 1451.3,1050.0 1452.5,1003.0 1453.8,1000.0 1453.9,1002.5 1453.9,1005.0 1454.0,1007.4 1454.0,1009.9 1454.1,1012.3 1454.1,1014.7 1454.2,1017.1 1454.2,1019.6 1454.3,1022.0 1454.3,1024.4 1454.4,1026.8 1454.4,1029.2 1454.5,1031.7 1454.5,1034.1 1454.6,1036.6 1454.6,1039.1 1454.7,1041.6 1454.7,1044.1 1454.8,1046.7 1454.8,1049.3 1454.9,1051.9 1454.9,1054.6 1455.0,1057.3 1455.0,1060.0 1455.1,1063.4 1455.1,1066.9 1455.1,1070.5 1455.2,1074.1 1455.2,1077.8 1455.3,1081.6 1455.3,1085.4 1455.4,1089.2 1455.4,1093.1 1455.4,1097.0 1455.5,1100.9 1455.5,1104.8 1455.6,1108.7 1455.6,1112.6 1455.6,1116.5 1455.7,1120.4 1455.7,1124.3 1455.7,1128.1 1455.8,1131.9 1455.8,1135.6 1455.9,1139.3 1455.9,1143.0 1456.0,1146.5 1456.0,1150.0 1456.0,1152.9 1456.1,1155.9 1456.1,1158.9 1456.1,1161.9 1456.2,1164.8 1456.2,1167.8 1456.2,1170.8 1456.3,1173.8 1456.3,1176.7 1456.3,1179.6 1456.4,1182.5 1456.4,1185.4 1456.4,1188.2 1456.5,1191.0 1456.5,1193.7 1456.6,1196.4 1456.6,1199.0 1456.6,1201.5 1456.7,1204.0 1456.7,1206.4 1456.8,1208.7 1456.9,1210.9 1456.9,1213.0 1457.0,1215.0 1457.1,1217.2 1457.2,1219.2 1457.3,1221.1 1457.4,1222.9 1457.5,1224.6 1457.6,1226.2 1457.7,1227.8 1457.8,1229.4 1457.9,1231.0 1458.0,1232.6 1458.1,1234.3 1458.2,1236.0 1458.3,1234.2 1458.3,1232.5 1458.4,1230.7 1458.4,1229.0 1458.5,1227.3 1458.5,1225.6 1458.6,1223.9 1458.7,1222.2 1458.7,1220.5 1458.8,1218.7 1458.8,1217.0 1458.9,1215.3 1459.0,1213.5 1459.0,1211.7 1459.1,1209.8 1459.1,1208.0 1459.2,1206.0 1459.2,1204.1 1459.3,1202.1 1459.3,1200.0 1459.3,1197.5 1459.4,1195.0 1459.4,1192.4 1459.5,1189.7 1459.5,1186.9 1459.5,1184.1 1459.6,1181.3 1459.6,1178.4 1459.6,1175.4 1459.7,1172.5 1459.7,1169.5 1459.7,1166.4 1459.7,1163.4 1459.8,1160.3 1459.8,1157.3 1459.8,1154.2 1459.8,1151.1 1459.8,1148.0 1459.9,1145.0 1459.9,1141.9 1459.9,1138.9 1459.9,1135.9 1460.0,1132.9 1460.0,1130.0 1460.8,1165.0 1461.8,1110.0 1462.6,1175.0 1462.6,1171.9 1462.7,1168.8 1462.7,1165.7 1462.7,1162.6 1462.8,1159.6 1462.8,1156.5 1462.8,1153.4 1462.9,1150.4 1462.9,1147.3 1462.9,1144.3 1463.0,1141.2 1463.0,1138.2 1463.0,1135.1 1463.1,1132.0 1463.1,1128.9 1463.1,1125.8 1463.2,1122.7 1463.2,1119.5 1463.2,1116.3 1463.3,1113.1 1463.3,1109.9 1463.3,1106.6 1463.4,1103.3 1463.4,1100.0 1463.4,1096.1 1463.5,1092.1 1463.5,1088.1 1463.6,1084.0 1463.6,1079.8 1463.6,1075.6 1463.7,1071.3 1463.7,1067.1 1463.7,1062.8 1463.8,1058.5 1463.8,1054.1 1463.9,1049.8 1463.9,1045.5 1463.9,1041.1 1464.0,1036.8 1464.0,1032.5 1464.1,1028.3 1464.1,1024.1 1464.2,1019.9 1464.2,1015.8 1464.3,1011.7 1464.3,1007.8 1464.3,1003.8 1464.4,1000.0 1464.4,996.9 1464.5,993.8 1464.5,990.7 1464.6,987.7 1464.6,984.7 1464.7,981.8 1464.7,978.9 1464.8,976.0 1464.8,973.2 1464.8,970.3 1464.9,967.5 1464.9,964.7 1465.0,961.9 1465.0,959.0 1465.1,956.2 1465.1,953.4 1465.2,950.6 1465.3,947.7 1465.3,944.8 1465.4,941.9 1465.4,939.0 1465.5,936.0 1465.5,933.0 1465.6,930.0 1465.7,926.6 1465.7,923.1 1465.8,919.7 1465.9,916.2 1466.0,912.7 1466.1,909.1 1466.1,905.6 1466.2,902.0 1466.3,898.4 1466.4,894.8 1466.5,891.2 1466.6,887.6 1466.6,883.9 1466.7,880.3 1466.8,876.6 1466.9,873.0 1467.0,869.3 1467.1,865.7 1467.2,862.1 1467.3,858.4 1467.3,854.8 1467.4,851.2 1467.5,847.6 1467.6,844.0 1467.7,847.2 1467.7,850.3 1467.8,853.5 1467.8,856.6 1467.9,859.8 1467.9,863.0 1468.0,866.1 1468.0,869.3 1468.1,872.4 1468.1,875.6 1468.2,878.7 1468.2,881.9 1468.3,885.0 1468.3,888.2 1468.4,891.4 1468.4,894.5 1468.5,897.7 1468.5,900.9 1468.6,904.0 1468.6,907.2 1468.7,910.4 1468.7,913.6 1468.8,916.8 1468.8,920.0 1468.8,923.3 1468.9,926.6 1468.9,929.8 1469.0,933.1 1469.0,936.4 1469.1,939.6 1469.1,942.9 1469.2,946.2 1469.2,949.5 1469.2,952.7 1469.3,956.0 1469.3,959.3 1469.4,962.6 1469.4,965.9 1469.5,969.3 1469.5,972.6 1469.5,976.0 1469.6,979.3 1469.6,982.7 1469.7,986.1 1469.7,989.6 1469.7,993.0 1469.8,996.5 1469.8,1000.0 1469.8,1004.0 1469.9,1008.0 1469.9,1012.1 1470.0,1016.2 1470.0,1020.4 1470.0,1024.6 1470.1,1028.9 1470.1,1033.2 1470.1,1037.5 1470.2,1041.8 1470.2,1046.1 1470.2,1050.4 1470.2,1054.7 1470.3,1059.0 1470.3,1063.3 1470.3,1067.6 1470.4,1071.8 1470.4,1076.0 1470.4,1080.1 1470.5,1084.2 1470.5,1088.3 1470.5,1092.3 1470.6,1096.2 1470.6,1100.0 1470.6,1103.2 1470.7,1106.3 1470.7,1109.5 1470.7,1112.6 1470.7,1115.7 1470.8,1118.8 1470.8,1121.9 1470.8,1124.9 1470.8,1127.9 1470.9,1131.0 1470.9,1133.9 1470.9,1136.9 1470.9,1139.8 1471.0,1142.7 1471.0,1145.6 1471.0,1148.4 1471.0,1151.3 1471.1,1154.0 1471.1,1156.8 1471.1,1159.5 1471.2,1162.2 1471.2,1164.8 1471.3,1167.4 1471.3,1170.0 1471.3,1172.1 1471.4,1174.1 1471.4,1176.2 1471.4,1178.2 1471.5,1180.3 1471.5,1182.3 1471.5,1184.3 1471.5,1186.3 1471.6,1188.3 1471.6,1190.3 1471.6,1192.2 1471.7,1194.1 1471.7,1196.0 1471.7,1197.8 1471.8,1199.6 1471.8,1201.3 1471.9,1203.0 1471.9,1204.7 1472.0,1206.3 1472.1,1207.8 1472.1,1209.3 1472.2,1210.7 1472.3,1212.0 1472.5,1214.0 1472.6,1215.8 1472.8,1217.4 1473.0,1219.0 1473.2,1220.5 1473.4,1221.9 1473.6,1223.4 1473.8,1225.0 1474.6,1223.8 1475.4,1222.6 1476.2,1221.4 1477.0,1220.0 1477.7,1218.4 1478.1,1217.1 1478.4,1215.7 1478.7,1214.1 1479.0,1212.4 1479.2,1210.6 1479.5,1208.8 1479.7,1206.8 1479.8,1204.8 1480.0,1202.8 1480.2,1200.8 1480.4,1198.8 1480.6,1196.9 1480.8,1194.9 1481.0,1193.1 1481.2,1191.3 1481.4,1189.4 1481.6,1187.5 1481.8,1185.6 1482.0,1183.7 1482.2,1181.8 1482.4,1179.9 1482.6,1178.0 1482.9,1176.2 1483.1,1174.4 1483.4,1172.6 1483.7,1171.0 1484.0,1169.4 1484.4,1167.9 1484.9,1166.0 1485.4,1164.1 1486.0,1162.2 1486.6,1160.4 1487.3,1158.8 1487.9,1157.5 1488.6,1156.6 1489.4,1156.1 1490.3,1156.3 1491.3,1157.0 1492.4,1158.1 1493.5,1159.3 1494.5,1160.3 1495.1,1158.8 1495.7,1157.3 1496.2,1155.8 1496.8,1154.3 1497.4,1152.7 1497.9,1151.0 1498.3,1149.5 1498.6,1148.0 1499.0,1146.4 1499.3,1144.7 1499.6,1143.0 1500.0,1141.3 1500.3,1139.5 1500.6,1137.7 1500.9,1136.0 1501.2,1134.2 1501.5,1132.6 1501.8,1131.1 1502.1,1129.6 1502.4,1128.0 1502.7,1126.5 1503.0,1125.0 1503.3,1123.4 1503.6,1121.7 1503.8,1119.9 1504.1,1118.1 1504.4,1116.1 1504.6,1114.0 1504.8,1112.0 1505.0,1109.8 1505.2,1107.5 1505.3,1105.0 1505.5,1102.5 1505.6,1099.9 1505.8,1097.2 1505.9,1094.4 1506.0,1091.5 1506.1,1088.6 1506.2,1085.6 1506.3,1082.6 1506.4,1079.5 1506.5,1076.5 1506.6,1073.4 1506.7,1070.4 1506.8,1067.3 1507.0,1064.3 1507.1,1061.3 1507.2,1058.4 1507.3,1055.5 1507.5,1052.7 1507.6,1050.0 1507.8,1047.3 1508.0,1045.0 1508.1,1042.7 1508.3,1040.3 1508.5,1038.0 1508.6,1035.7 1508.8,1033.4 1509.0,1031.1 1509.2,1028.8 1509.4,1026.5 1509.6,1024.2 1509.8,1022.0 1510.0,1019.7 1510.2,1017.5 1510.3,1015.3 1510.5,1013.1 1510.7,1011.0 1510.9,1008.8 1511.1,1006.7 1511.3,1004.7 1511.5,1002.6 1511.7,1000.6 1511.9,998.6 1512.0,996.7 1512.2,994.8 1512.4,992.7 1512.5,990.6 1512.7,988.5 1512.8,986.4 1513.0,984.3 1513.1,982.3 1513.2,980.3 1513.3,978.4 1513.5,976.5 1513.6,974.6 1513.8,972.8 1514.0,971.1 1514.2,969.5 1514.4,967.9 1514.7,966.4 1515.0,965.0 1515.4,963.1 1515.9,961.2 1516.4,959.4 1517.0,957.7 1517.6,956.4 1518.2,955.4 1518.8,955.0 1519.6,955.1 1520.4,955.8 1521.3,956.8 1522.0,958.0 1522.4,959.0 1522.8,960.2 1523.1,961.5 1523.3,963.0 1523.5,964.6 1523.7,966.4 1523.8,968.2 1524.0,970.1 1524.1,972.0 1524.3,974.0 1524.5,976.0 1524.7,977.5 1524.8,979.2 1524.9,981.0 1525.0,982.9 1525.2,984.8 1525.3,986.9 1525.4,989.0 1525.5,991.2 1525.6,993.4 1525.7,995.7 1525.8,997.9 1525.9,1000.1 1526.1,1002.3 1526.2,1004.5 1526.3,1006.6 1526.4,1008.7 1526.6,1010.6 1526.7,1012.5 1526.9,1014.3 1527.1,1015.9 1527.3,1017.4 1527.5,1018.7 1527.7,1019.9 1527.9,1020.9 1528.4,1022.6 1528.9,1024.1 1529.5,1025.0 1530.1,1025.4 1530.6,1025.1 1531.2,1024.4 1531.8,1023.2 1532.4,1021.7 1533.0,1020.0 1533.6,1018.1 1534.1,1016.2 1534.6,1014.2 1534.9,1012.8 1535.2,1011.3 1535.5,1009.7 1535.7,1008.0 1536.0,1006.2 1536.2,1004.3 1536.4,1002.3 1536.6,1000.3 1536.8,998.2 1537.0,996.0 1537.1,993.8 1537.3,991.5 1537.5,989.3 1537.6,987.0 1537.8,984.7 1537.9,982.4 1538.0,980.0 1538.2,977.7 1538.3,975.5 1538.5,973.2 1538.6,971.0 1538.8,968.9 1538.9,966.7 1539.1,964.7 1539.3,962.8 1539.4,960.9 1539.6,959.0 1539.7,957.2 1539.9,955.3 1540.0,953.4 1540.2,951.6 1540.3,949.8 1540.5,947.9 1540.6,946.1 1540.7,944.3 1540.9,942.4 1541.0,940.6 1541.2,938.8 1541.3,936.9 1541.4,935.1 1541.6,933.2 1541.7,931.3 1541.8,929.4 1542.0,927.6 1542.1,925.6 1542.2,923.7 1542.4,921.8 1542.5,919.8 1542.6,917.6 1542.8,915.3 1542.9,913.1 1543.1,910.8 1543.2,908.5 1543.4,906.2 1543.5,903.9 1543.6,901.5 1543.8,899.2 1543.9,896.8 1544.0,894.5 1544.2,892.1 1544.3,889.7 1544.4,887.3 1544.6,885.0 1544.7,882.6 1544.8,880.2 1545.0,877.8 1545.1,875.4 1545.3,873.0 1545.4,870.7 1545.5,868.3 1545.7,865.9 1545.8,863.6 1545.9,861.2 1546.1,858.8 1546.2,856.4 1546.4,853.9 1546.5,851.4 1546.6,848.9 1546.8,846.4 1546.9,843.9 1547.1,841.4 1547.2,838.8 1547.3,836.3 1547.5,833.8 1547.6,831.4 1547.8,828.9 1547.9,826.5 1548.0,824.2 1548.2,821.8 1548.3,819.6 1548.5,817.4 1548.6,815.2 1548.8,813.1 1548.9,811.1 1549.1,809.2 1549.2,807.4 1549.4,805.3 1549.6,803.2 1549.8,801.3 1550.0,799.5 1550.1,797.8 1550.3,796.1 1550.5,794.4 1550.7,792.8 1550.9,791.1 1551.1,789.4 1551.3,787.8 1551.5,786.0 1553.7,796.2 1554.8,765.5 1554.9,767.4 1555.0,769.3 1555.1,771.1 1555.2,772.9 1555.3,774.8 1555.4,776.6 1555.6,778.4 1555.7,780.2 1555.8,782.0 1555.9,783.8 1556.0,785.6 1556.1,787.5 1556.2,789.3 1556.3,791.2 1556.4,793.1 1556.5,795.0 1556.6,797.0 1556.7,799.0 1556.8,801.0 1556.9,803.1 1557.0,805.2 1557.1,807.4 1557.2,810.2 1557.3,813.1 1557.4,816.1 1557.5,819.1 1557.6,822.2 1557.7,825.3 1557.8,828.6 1557.9,831.8 1558.0,835.1 1558.0,838.4 1558.1,841.8 1558.2,845.2 1558.3,848.6 1558.4,852.1 1558.4,855.5 1558.5,859.0 1558.6,862.4 1558.7,865.9 1558.8,869.3 1558.9,872.7 1559.0,876.1 1559.1,879.5 1559.2,882.8 1559.3,886.1 1559.4,889.4 1559.5,892.7 1559.7,896.0 1559.8,899.3 1559.9,902.6 1560.0,905.9 1560.2,909.2 1560.3,912.5 1560.4,915.8 1560.6,919.2 1560.7,922.5 1560.8,925.8 1561.0,929.1 1561.1,932.4 1561.3,935.7 1561.4,939.0 1561.6,942.2 1561.7,945.5 1561.9,948.7 1562.0,952.0 1562.2,955.2 1562.4,958.4 1562.5,961.5 1562.7,964.7 1562.9,967.6 1563.0,970.5 1563.2,973.4 1563.3,976.3 1563.5,979.2 1563.7,982.1 1563.8,985.0 1564.0,987.9 1564.1,990.8 1564.3,993.6 1564.5,996.5 1564.7,999.3 1564.8,1002.1 1565.0,1004.9 1565.2,1007.7 1565.4,1010.5 1565.6,1013.3 1565.8,1016.0 1566.0,1018.7 1566.2,1021.5 1566.5,1024.1 1566.7,1026.8 1566.9,1029.5 1567.2,1032.1 1567.4,1034.4 1567.6,1036.8 1567.8,1039.2 1568.0,1041.6 1568.2,1044.1 1568.4,1046.6 1568.6,1049.0 1568.8,1051.5 1569.0,1053.9 1569.3,1056.4 1569.5,1058.8 1569.7,1061.1 1570.0,1063.5 1570.2,1065.7 1570.5,1068.0 1570.8,1070.1 1571.1,1072.2 1571.4,1074.1 1571.8,1076.0 1572.1,1077.8 1572.5,1079.5 1573.0,1081.1 1573.4,1082.5 1573.9,1083.8 1574.7,1085.7 1575.6,1087.6 1576.6,1089.3 1577.6,1090.7 1578.6,1091.8 1579.7,1092.5 1580.7,1092.8 1581.7,1092.6 1582.7,1092.0 1583.8,1091.1 1584.8,1089.9 1585.9,1088.4 1587.0,1086.9 1588.0,1085.1 1588.9,1083.4 1589.7,1081.6 1590.2,1080.3 1590.7,1078.9 1591.1,1077.4 1591.5,1075.8 1591.8,1074.2 1592.2,1072.4 1592.4,1070.6 1592.7,1068.7 1592.9,1066.8 1593.2,1064.9 1593.4,1062.9 1593.6,1060.9 1593.7,1058.9 1593.9,1056.9 1594.1,1054.9 1594.3,1052.9 1594.5,1050.9 1594.6,1048.9 1594.8,1047.0 1595.1,1045.2 1595.3,1043.4 1595.6,1041.5 1595.8,1039.6 1596.1,1037.7 1596.3,1035.8 1596.6,1033.9 1596.8,1032.0 1597.1,1030.1 1597.3,1028.3 1597.5,1026.4 1597.8,1024.6 1598.0,1022.7 1598.2,1020.9 1598.5,1019.0 1598.7,1017.1 1599.0,1015.3 1599.3,1013.4 1599.5,1011.6 1599.8,1009.7 1600.1,1007.9 1600.3,1006.1 1600.6,1004.4 1600.9,1002.6 1601.2,1000.8 1601.5,999.0 1601.8,997.2 1602.1,995.4 1602.4,993.6 1602.7,991.8 1603.0,990.0 1603.3,988.2 1603.7,986.5 1604.0,984.7 1604.3,982.9 1604.5,981.2 1604.8,979.4 1605.1,977.7 1605.4,976.0 1605.7,974.1 1606.0,972.1 1606.3,970.2 1606.5,968.2 1606.8,966.2 1607.1,964.2 1607.4,962.3 1607.6,960.3 1607.9,958.4 1608.2,956.6 1608.4,954.7 1608.7,953.0 1609.0,951.3 1609.3,949.7 1609.6,948.1 1609.9,946.7 1610.4,944.9 1610.9,943.4 1611.4,942.0 1611.9,940.6 1612.4,939.2 1612.9,937.5 1613.3,935.5 1613.5,934.0 1613.7,932.5 1613.8,930.7 1614.0,928.9 1614.1,927.0 1614.2,925.0 1614.2,922.8 1614.3,920.6 1614.3,918.4 1614.4,916.1 1614.4,913.7 1614.4,911.3 1614.4,908.8 1614.4,906.3 1614.4,903.8 1614.3,901.3 1614.3,898.8 1614.3,896.3 1614.3,893.8 1614.3,891.4 1614.3,889.0 1614.3,886.6 1614.4,884.3 1614.4,882.0 1614.6,883.7 1614.9,885.2 1615.2,886.8 1615.4,888.4 1615.7,889.9 1615.9,891.6 1616.2,893.4 1616.4,895.2 1616.6,897.3 1616.7,898.7 1616.8,900.2 1617.0,901.8 1617.1,903.4 1617.2,905.1 1617.2,906.9 1617.3,908.7 1617.4,910.6 1617.5,912.5 1617.6,914.4 1617.6,916.4 1617.7,918.4 1617.8,920.4 1617.9,922.5 1617.9,924.5 1618.0,926.5 1618.1,928.6 1618.2,930.6 1618.3,932.6 1618.4,934.6 1618.5,936.5 1618.6,938.5 1618.8,940.4 1618.9,942.2 1619.1,944.1 1619.2,946.0 1619.4,947.9 1619.5,949.9 1619.7,951.8 1619.8,953.7 1620.0,955.7 1620.2,957.6 1620.3,959.5 1620.5,961.5 1620.7,963.4 1620.9,965.2 1621.1,967.1 1621.3,969.0 1621.5,970.8 1621.8,972.6 1622.0,974.4 1622.3,976.1 1622.5,977.8 1622.8,979.5 1623.1,981.1 1623.4,982.7 1623.8,984.7 1624.3,986.6 1624.8,988.5 1625.3,990.4 1625.8,992.2 1626.3,994.0 1626.9,995.8 1627.4,997.5 1628.0,999.1 1628.5,1000.7 1629.1,1002.3 1629.6,1003.8 1630.1,1005.2 1630.7,1006.9 1631.2,1008.8 1631.7,1010.6 1632.2,1012.3 1632.8,1013.9 1633.3,1015.1 1633.9,1016.0 1634.6,1016.4 1635.5,1016.2 1636.4,1015.6 1637.5,1014.5 1638.5,1013.1 1639.4,1011.5 1640.2,1009.7 1640.6,1008.6 1640.9,1007.4 1641.2,1006.0 1641.4,1004.6 1641.6,1003.0 1641.8,1001.3 1642.0,999.5 1642.1,997.7 1642.2,995.7 1642.2,993.7 1642.3,991.7 1642.3,989.6 1642.3,987.5 1642.4,985.3 1642.4,983.2 1642.4,981.0 1642.4,978.9 1642.3,976.7 1642.3,974.6 1642.4,972.5 1642.4,970.5 1642.4,968.5 1642.4,966.6 1642.5,964.7 1642.6,962.7 1642.6,960.6 1642.6,958.5 1642.6,956.3 1642.6,954.0 1642.6,951.8 1642.6,949.5 1642.6,947.2 1642.6,945.0 1642.5,942.8 1642.5,940.6 1642.5,938.5 1642.6,936.5 1642.6,934.6 1642.6,932.8 1642.7,931.1 1642.8,929.5 1643.0,928.1 1643.1,926.9 1643.3,925.8 1643.6,925.0 1644.2,923.9 1644.9,923.2 1645.6,922.5 1646.0,924.2 1646.3,926.0 1646.7,927.8 1647.0,929.6 1647.3,931.4 1647.7,933.1 1648.1,934.8 1648.6,936.4 1649.2,937.8 1649.9,939.4 1650.7,940.8 1651.6,942.2 1652.5,943.4 1653.6,944.6 1654.8,945.6 1656.0,946.4 1657.5,947.1 1659.0,947.7 1660.7,948.2 1662.3,948.7 1664.0,949.1 1665.5,949.5 1667.0,949.8 1668.7,950.2 1670.2,950.4 1671.8,950.6 1673.3,950.8 1674.9,950.9 1676.4,950.9 1678.0,950.9 1679.5,950.8 1681.1,950.8 1682.7,950.7 1684.3,950.6 1688.2,946.5 1691.3,947.0 1692.0,948.4 1692.7,949.9 1693.4,951.3 1694.2,952.6 1695.3,953.7 1696.5,954.4 1697.8,955.0 1699.3,955.4 1700.9,955.7 1702.6,956.1 1704.4,956.4 1706.2,956.8 1707.6,957.1 1709.2,957.5 1710.8,957.9 1712.6,958.2 1714.3,958.6 1716.2,959.0 1718.0,959.3 1719.9,959.7 1721.7,960.0 1723.5,960.4 1725.2,960.7 1726.9,961.0 1728.4,961.3 1729.8,961.5 1731.5,961.8 1733.0,962.0 1734.5,962.2 1735.8,962.3 1737.2,962.5 1738.6,962.7 1740.0,962.8 1744.0,963.5 1748.0,964.1 1752.0,964.8 1756.0,965.4 1760.0,966.1 1764.0,966.7 1768.0,967.4 1772.0,968.0 1776.0,968.7 1780.0,969.3 1784.0,970.0 1788.0,970.6 1792.0,971.2 1796.0,971.9 1800.0,972.5 1804.0,973.1 1808.0,973.8 1812.0,974.4 1816.0,975.0 1820.0,975.7 1824.0,976.3 1828.0,976.9 1832.0,977.5 1836.0,978.2 1840.0,978.8 1844.0,979.4 1848.0,980.0 1852.0,980.6 1856.0,981.3 1860.0,981.9 1864.0,982.5 1868.0,983.1 1872.0,983.7 1876.0,984.3 1880.0,984.9 1884.0,985.5 1888.0,986.1 1892.0,986.8 1896.0,987.4 1900.0,988.0 1904.0,988.6 1908.0,989.2 1912.0,989.8 1916.0,990.4 1920.0,990.9 1924.0,991.5 1928.0,992.1 1932.0,992.7 1936.0,993.3 1940.0,993.9 1944.0,994.5 1948.0,995.1 1952.0,995.7 1956.0,996.3 1960.0,996.8 1964.0,997.4 1968.0,998.0 1972.0,998.6 1976.0,999.2 1980.0,999.7 1984.0,1000.3 1988.0,1000.9 1992.0,1001.5 1996.0,1002.1 2000.0,1002.6 2004.0,1003.2 2008.0,1003.8 2012.0,1004.3 2016.0,1004.9 2020.0,1005.5 2024.0,1006.0 2028.0,1006.6 2032.0,1007.2 2036.0,1007.7 2040.0,1008.3 2044.0,1008.9 2048.0,1009.4 2052.0,1010.0 2056.0,1010.5 2060.0,1011.1 2064.0,1011.6 2068.0,1012.2 2072.0,1012.8 2076.0,1013.3 2080.0,1013.9 2084.0,1014.4 2088.0,1015.0 2092.0,1015.5 2096.0,1016.1 2100.0,1016.6 2104.0,1017.1 2108.0,1017.7 2112.0,1018.2 2116.0,1018.8 2120.0,1019.3 2124.0,1019.9 2128.0,1020.4 2132.0,1020.9 2136.0,1021.5 2140.0,1022.0 2144.0,1022.5 2148.0,1023.1 2152.0,1023.6 2156.0,1024.1 2160.0,1024.7 2164.0,1025.2 2168.0,1025.7 2172.0,1026.3 2176.0,1026.8 2180.0,1027.3 2184.0,1027.9 2188.0,1028.4 2192.0,1028.9 2196.0,1029.4 2200.0,1029.9 2204.0,1030.5 2208.0,1031.0 2212.0,1031.5 2216.0,1032.0 2220.0,1032.5 2224.0,1033.1 2228.0,1033.6 2232.0,1034.1 2236.0,1034.6 2240.0,1035.1 2244.0,1035.6 2248.0,1036.1 2252.0,1036.7 2256.0,1037.2 2260.0,1037.7 2264.0,1038.2 2268.0,1038.7 2272.0,1039.2 2276.0,1039.7 2280.0,1040.2 2284.0,1040.7 2288.0,1041.2 2292.0,1041.7 2296.0,1042.2 2300.0,1042.7 2304.0,1043.2 2308.0,1043.7 2312.0,1044.2 2316.0,1044.7 2320.0,1045.2 2324.0,1045.7 2327.0,1046.1"/><polygon fill="#000" points="719,905 729.5,905 729.5,926 726.5,952 722,968 719,968"/><polygon fill="#000" points="783.5,798 793.5,798 793.5,830 791,884 783.5,884"/><polygon fill="#f00" points="1350.7,700 1357.5,640 1358.5,800 1360,766 1366,764 1366,848 1350.7,848"/><polygon fill="#f00" points="1447,1108 1466,1106 1465,1160 1461,1225 1457,1236 1453,1225 1448,1160"/><polygon fill="#f00" points="1432,1288 1432,1250 1437,1210 1441,1206 1443.5,1228 1447,1208 1449,1215 1449,1262 1446,1288"/><polygon fill="#f00" points="1364.6,645 1371.8,645 1372.4,729 1364.6,729"/><rect x="267" y="41" width="2059" height="1442" fill="none" stroke="#000" stroke-width="4"/><path d="M672 1483V1442M672 41V82M1081 1483V1442M1081 41V82M1491 1483V1442M1491 41V82M1901 1483V1442M1901 41V82M2310 1483V1442M2310 41V82M467 1483V1462M467 41V62M877 1483V1462M877 41V62M1286 1483V1462M1286 41V62M1696 1483V1462M1696 41V62M2106 1483V1462M2106 41V62M267 1257H308M2326 1257H2285M267 842H308M2326 842H2285M267 427H308M2326 427H2285M267 1474H288M2326 1474H2305M267 1464H288M2326 1464H2305M267 1195H288M2326 1195H2305M267 1158H288M2326 1158H2305M267 1132H288M2326 1132H2305M267 1112H288M2326 1112H2305M267 1096H288M2326 1096H2305M267 1082H288M2326 1082H2305M267 1070H288M2326 1070H2305M267 1059H288M2326 1059H2305M267 1049H288M2326 1049H2305M267 780H288M2326 780H2305M267 743H288M2326 743H2305M267 717H288M2326 717H2305M267 697H288M2326 697H2305M267 681H288M2326 681H2305M267 667H288M2326 667H2305M267 655H288M2326 655H2305M267 644H288M2326 644H2305M267 634H288M2326 634H2305M267 365H288M2326 365H2305M267 328H288M2326 328H2305M267 302H288M2326 302H2305M267 282H288M2326 282H2305M267 266H288M2326 266H2305M267 252H288M2326 252H2305M267 240H288M2326 240H2305M267 229H288M2326 229H2305M267 219H288M2326 219H2305" stroke="#000" stroke-width="4" fill="none"/><rect x="1304" y="129" width="957" height="245" fill="#fff" stroke="#000" stroke-width="4"/><path d="M1326 195H1409" stroke="#000" stroke-width="4"/><path d="M1326 307.5H1409" stroke="#f00" stroke-width="5"/><text x="617.00" y="1553.00" font-size="75" textLength="109.32" lengthAdjust="spacingAndGlyphs">500</text><text x="1013.00" y="1553.00" font-size="75" textLength="140.37" lengthAdjust="spacingAndGlyphs">1000</text><text x="1423.00" y="1553.00" font-size="75" textLength="140.37" lengthAdjust="spacingAndGlyphs">1500</text><text x="1829.00" y="1553.00" font-size="75" textLength="144.79" lengthAdjust="spacingAndGlyphs">2000</text><text x="2239.00" y="1553.00" font-size="75" textLength="143.75" lengthAdjust="spacingAndGlyphs">2500</text><text x="153.00" y="466.00" font-size="75" textLength="70.40" lengthAdjust="spacingAndGlyphs">10</text><text x="153.00" y="881.00" font-size="75" textLength="70.40" lengthAdjust="spacingAndGlyphs">10</text><text x="153.00" y="1296.00" font-size="75" textLength="70.40" lengthAdjust="spacingAndGlyphs">10</text><text x="223.00" y="423.00" font-size="52" textLength="24.82" lengthAdjust="spacingAndGlyphs">6</text><text x="223.00" y="837.00" font-size="52" textLength="24.92" lengthAdjust="spacingAndGlyphs">4</text><text x="222.00" y="1252.00" font-size="52" textLength="27.24" lengthAdjust="spacingAndGlyphs">2</text><text x="1098.00" y="1628.00" font-size="80" textLength="399.18" lengthAdjust="spacingAndGlyphs">Energy (eV)</text><text x="1449.00" y="226.00" font-size="73" textLength="659.61" lengthAdjust="spacingAndGlyphs">Oxygen, ρ=0.321 g/cm</text><text x="1448.00" y="338.00" font-size="73" textLength="771.18" lengthAdjust="spacingAndGlyphs">Magnesium, ρ=0.356 g/cm</text><text x="2108.00" y="184.00" font-size="52" textLength="23.58" lengthAdjust="spacingAndGlyphs">3</text><text x="2219.00" y="297.00" font-size="52" textLength="23.58" lengthAdjust="spacingAndGlyphs">3</text><text transform="translate(113.20 1018.00) rotate(-90)" font-size="81" textLength="399.56" lengthAdjust="spacingAndGlyphs">Opacity (cm</text><text transform="translate(65.20 622.00) rotate(-90)" font-size="56" textLength="33.09" lengthAdjust="spacingAndGlyphs">2</text><text transform="translate(113.20 592.00) rotate(-90)" font-size="81" textLength="89.98" lengthAdjust="spacingAndGlyphs">/g)</text></svg></body></html>
